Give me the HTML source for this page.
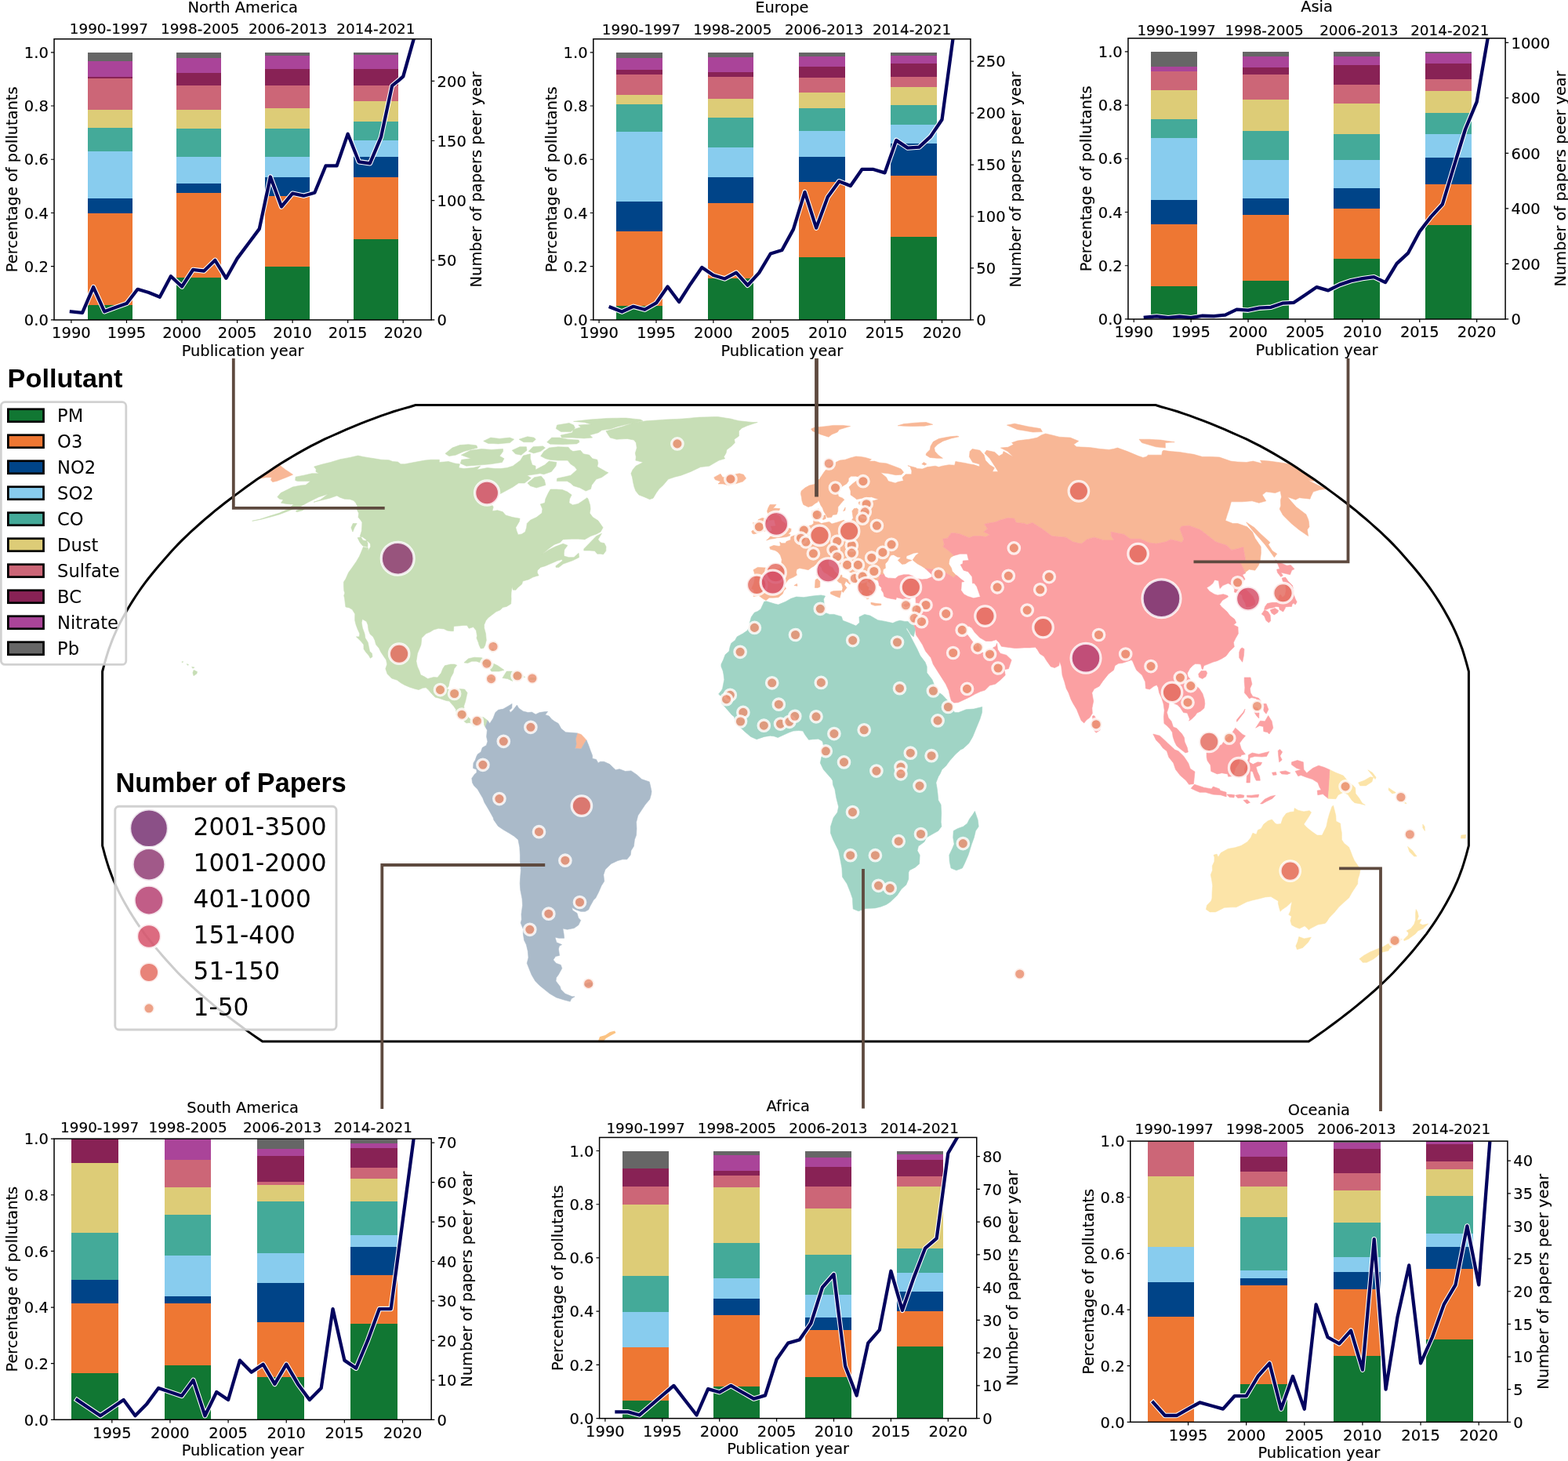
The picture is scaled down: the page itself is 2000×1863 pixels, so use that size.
<!DOCTYPE html>
<html lang="en"><head><meta charset="utf-8"><title>Air pollutant publications by continent</title>
<style>
html,body{margin:0;padding:0;background:#fff;}
body{width:2000px;height:1863px;overflow:hidden;font-family:"DejaVu Sans","Liberation Sans",sans-serif;}
svg{display:block;}
</style></head><body>
<svg xmlns="http://www.w3.org/2000/svg" width="2000" height="1863" viewBox="0 0 2000 1863">
<rect width="2000" height="1863" fill="#fff"/>
<clipPath id="mapclip"><path d="M516.1 520.6L509.2 522.6L502.1 524.8L494.5 527.4L486.3 530.2L477.7 533.4L468.9 536.7L459.9 540.2L450.9 543.9L441.8 547.7L432.4 551.8L423 556L413.7 560.2L404.9 564.6L396.4 568.9L388.2 573.4L380.2 577.9L372.3 582.5L364.6 587.1L357 591.8L349.7 596.6L342.4 601.4L335.3 606.2L328.1 611.1L321.1 616L314.1 621L307.2 626.1L300.4 631.1L293.6 636.2L287 641.3L280.4 646.5L273.9 651.7L267.6 657L261.4 662.2L255.3 667.5L249.3 672.8L243.4 678.2L237.7 683.6L232.2 688.9L226.8 694.4L221.7 699.8L216.7 705.3L211.9 710.7L207.1 716.2L202.3 721.7L197.7 727.2L193.2 732.8L188.8 738.3L184.5 743.8L180.5 749.4L176.6 755L172.9 760.5L169.3 766.1L165.8 771.7L162.5 777.3L159.3 782.9L156.2 788.5L153.3 794L150.5 799.6L147.9 805.2L145.4 810.8L143.1 816.4L141 822L138.9 827.6L137.1 833.2L135.4 838.8L133.8 844.3L132.3 849.9L130.8 855.5L130.6 856.2L130.6 1078.4L130.8 1079.1L132.3 1084.7L133.8 1090.3L135.4 1095.8L137.1 1101.4L138.9 1107L141 1112.6L143.1 1118.2L145.4 1123.8L147.9 1129.4L150.5 1135L153.3 1140.6L156.2 1146.1L159.3 1151.7L162.5 1157.3L165.8 1162.9L169.3 1168.5L172.9 1174.1L176.6 1179.6L180.5 1185.2L184.5 1190.8L188.8 1196.3L193.2 1201.8L197.7 1207.4L202.3 1212.9L207.1 1218.4L211.9 1223.9L216.7 1229.3L221.7 1234.8L226.8 1240.2L232.2 1245.7L237.7 1251L243.4 1256.4L249.3 1261.8L255.3 1267.1L261.4 1272.4L267.6 1277.6L273.9 1282.9L280.4 1288.1L287 1293.3L293.6 1298.4L300.4 1303.5L307.2 1308.5L314.1 1313.6L321.1 1318.6L328.1 1323.5L334.8 1328.1L1669.2 1328.1L1675.9 1323.5L1682.9 1318.6L1689.9 1313.6L1696.8 1308.5L1703.6 1303.5L1710.4 1298.4L1717 1293.3L1723.6 1288.1L1730.1 1282.9L1736.4 1277.6L1742.6 1272.4L1748.7 1267.1L1754.7 1261.8L1760.6 1256.4L1766.3 1251L1771.8 1245.7L1777.2 1240.2L1782.3 1234.8L1787.3 1229.3L1792.1 1223.9L1796.9 1218.4L1801.7 1212.9L1806.3 1207.4L1810.8 1201.8L1815.2 1196.3L1819.5 1190.8L1823.5 1185.2L1827.4 1179.6L1831.1 1174.1L1834.7 1168.5L1838.2 1162.9L1841.5 1157.3L1844.7 1151.7L1847.8 1146.1L1850.7 1140.6L1853.5 1135L1856.1 1129.4L1858.6 1123.8L1860.9 1118.2L1863 1112.6L1865.1 1107L1866.9 1101.4L1868.6 1095.8L1870.2 1090.3L1871.7 1084.7L1873.2 1079.1L1873.4 1078.4L1873.4 856.2L1873.2 855.5L1871.7 849.9L1870.2 844.3L1868.6 838.8L1866.9 833.2L1865.1 827.6L1863 822L1860.9 816.4L1858.6 810.8L1856.1 805.2L1853.5 799.6L1850.7 794L1847.8 788.5L1844.7 782.9L1841.5 777.3L1838.2 771.7L1834.7 766.1L1831.1 760.5L1827.4 755L1823.5 749.4L1819.5 743.8L1815.2 738.3L1810.8 732.8L1806.3 727.2L1801.7 721.7L1796.9 716.2L1792.1 710.7L1787.3 705.3L1782.3 699.8L1777.2 694.4L1771.8 688.9L1766.3 683.6L1760.6 678.2L1754.7 672.8L1748.7 667.5L1742.6 662.2L1736.4 657L1730.1 651.7L1723.6 646.5L1717 641.3L1710.4 636.2L1703.6 631.1L1696.8 626.1L1689.9 621L1682.9 616L1675.9 611.1L1668.7 606.2L1661.6 601.4L1654.3 596.6L1647 591.8L1639.4 587.1L1631.7 582.5L1623.8 577.9L1615.8 573.4L1607.6 568.9L1599.1 564.6L1590.3 560.2L1581 556L1571.6 551.8L1562.2 547.7L1553.1 543.9L1544.1 540.2L1535.1 536.7L1526.3 533.4L1517.7 530.2L1509.5 527.4L1501.9 524.8L1494.8 522.6L1487.9 520.6L1481 518.7L1474.1 516.6L529.9 516.6L523 518.7Z"/></clipPath>
<g id="map" clip-path="url(#mapclip)" stroke-linejoin="round">
<path id="land-europe" fill="#f8b796" stroke="#f8b796" stroke-width="0.6" d="M1115 738.9L1110.6 740L1108.6 742.7L1111 743.8L1106.2 741.1L1105.3 741.6L1105.3 746.6L1108.3 749.4L1107.2 752.2L1111.9 753.8L1112.2 756.6L1108.4 755.5L1108.7 758.9L1108.2 763.3L1105.9 763.9L1103.4 761.7L1102 761.7L1099.3 756.6L1100.5 753.3L1098.1 752.2L1096.5 749.4L1093 745.5L1090.4 742.2L1089.5 736.6L1089.7 733.9L1084.9 730L1080.2 727.2L1075.5 724.5L1070.9 721.7L1068.4 717.9L1066 715.1L1063 716.8L1061.9 713.5L1061.4 712.4L1057.1 714L1056.4 717.3L1057.5 721.7L1062.1 723.9L1064.7 728.9L1069.4 732.8L1073.9 733.3L1074.1 736.1L1078.8 737.7L1083.5 740.5L1086 743.3L1083.8 745L1079 741.1L1077 745.5L1080 749.4L1077.5 752.7L1075.4 755.5L1073.9 753.8L1075 749.4L1073.3 743.8L1070.1 742.7L1067.6 740L1062.9 737.2L1058.3 734.4L1055 731.7L1051.3 730L1048.9 727.2L1047.9 723.9L1045.5 721.2L1041 719.5L1037.6 722.3L1035.4 723.4L1031 726.7L1025.6 725.6L1019.8 724.5L1016.3 726.1L1015.4 730L1016.4 733.3L1011.9 736.1L1006.5 738.3L1004.3 740.5L1000.6 746.6L1002.5 750.5L999.7 753.3L998.3 757.2L992.8 761.7L985.9 762.2L981.2 762.2L977 765.6L972.9 763.3L967.9 759.4L961 760.5L961.7 752.2L958.6 750.5L961.6 743.8L962.7 737.2L962.1 730L960.9 726.7L966.4 723.4L975.3 723.9L984.2 725L993.1 725.6L995.3 724.5L996.7 719L997.2 713.5L995.4 708L992.4 704.2L989 702L982.5 700.3L981.7 697.6L986.9 695.4L993.4 696.5L995.5 696L994.7 691.1L996.8 692.7L1002 692.7L1002.9 690.6L1008.4 688.4L1008.8 684.6L1012.6 683L1016.8 681.4L1018.9 678.2L1021.3 675.5L1022.1 672.8L1024.9 671.2L1031.2 670.7L1035.3 669.6L1037.7 667.5L1037.8 662.7L1035.6 659.6L1034.9 654.3L1035.5 651.2L1040.4 650.7L1044.2 648.1L1044.3 654.3L1046.1 657L1043 659.6L1041.9 662.2L1043.3 664.9L1047.6 667.5L1051.7 666.5L1057.8 665.4L1061 668L1068.2 665.9L1076.2 663.3L1079.3 665.4L1083.8 664.9L1086.5 663.3L1088.2 660.6L1087.7 657L1086.9 651.7L1089.3 648.6L1092.8 648.1L1097.1 651.7L1100 650.2L1099.5 645L1095.6 642.9L1095.2 640.3L1100.1 638.8L1106.7 638.3L1112.7 638.8L1121 636.7L1115.9 635.2L1111.7 633.7L1105.9 634.2L1100.2 635.2L1092.6 636.7L1090.3 634.7L1085 631.1L1085 626.1L1083 621L1087.3 617L1093.9 612.1L1097 610.6L1095 608.2L1091.8 607.2L1085.5 607.2L1082.3 610.1L1082.2 613.6L1079.7 617L1074.5 620L1071.1 623.5L1069.2 626.1L1069 631.1L1069.7 633.2L1074.7 635.2L1076.9 637.2L1074.5 639.8L1071.7 642.9L1068.9 646.5L1068.7 651.7L1067.2 655.9L1062.3 656.4L1060.6 659.6L1055.3 660.1L1053.4 656.4L1050.5 651.7L1049.4 648.1L1046.7 643.9L1045.7 641.3L1043.8 637.8L1042.8 640.3L1039.8 641.9L1036 645L1030.9 646.5L1024.7 643.4L1023 638.8L1022.4 634.2L1021.4 629.6L1022.1 626.1L1026.9 622L1032.4 619L1039.2 617.5L1041.5 613.6L1045.1 611.1L1048.3 606.2L1051.5 601.4L1054.7 597.5L1058 595.1L1061.3 592.8L1066.1 589.5L1071.1 587.1L1078 586.2L1084.5 583.9L1091.8 582L1098.2 582.5L1103.7 583.4L1111.4 585.7L1108.5 588.1L1115.6 588.1L1121.5 589.9L1130.7 590.9L1140.9 594.7L1149.3 598L1152.6 602.3L1149.8 605.2L1142.6 605.7L1132.8 603.8L1123.3 602.8L1130.5 608.7L1133 613.6L1142 616L1145.3 614.6L1152.4 613.1L1151 608.7L1155.2 604.8L1162.6 604.8L1162.9 600.4L1160.9 595.1L1157.9 593.7L1168.7 596.6L1169.1 597.5L1176.5 598L1182.8 595.6L1193 594.2L1197.3 595.6L1202 594.2L1210.3 592.8L1217.7 593.2L1218.8 588.5L1230.5 590.4L1236.7 591.8L1242.6 592.8L1249.4 595.1L1249.2 591.8L1240.7 589.5L1236.4 582.5L1237.1 575.6L1240.1 572.5L1249.9 574.3L1255.1 580.2L1257 587.1L1262.4 592.8L1268.4 596.6L1265.8 601.4L1273.2 601.4L1268.7 594.2L1262.5 584.8L1255.9 577.9L1258.4 574.3L1268.7 576.5L1274.2 581.6L1279.1 578.8L1280 575.6L1292.4 582.5L1285.2 575.6L1276.4 571.1L1285.8 570.3L1292.7 566.7L1290.6 564.6L1297.9 562L1305.2 561.1L1312.5 560.2L1317.8 559.2L1323 558.1L1328.5 554.7L1333.7 553L1341.3 554.7L1351.1 557.2L1358.1 557.7L1365.2 558.1L1375.8 562.4L1369.5 566.7L1373.1 569.8L1383.8 570.3L1391 570.7L1403.3 572.5L1414.6 573.4L1420.3 572.5L1425.4 571.1L1437.9 575.6L1452.2 581.6L1457.9 583.4L1462 582.5L1464.4 580.2L1474.8 580.2L1481.8 580.2L1482.6 575.6L1484.1 574.3L1492.9 575.6L1504.5 576.5L1513.3 577.9L1522.2 579.3L1533.7 582.5L1544.2 582.5L1555.4 583L1569.9 588.1L1578.4 589L1589.8 589.5L1598.3 588.1L1609.7 590.9L1607.5 587.1L1619.6 588.1L1633.3 589.9L1647.7 592.3L1675.9 611.1L1675.6 613.6L1668.6 612.6L1680.7 618.5L1691.4 623.5L1683.2 624.5L1675 627.1L1671.8 633.7L1671 636.2L1657.3 634.7L1652.6 637.2L1642.4 633.7L1646.5 638.8L1653.4 646.5L1665.9 655.9L1668.6 662.2L1669.3 664.9L1670 671.8L1667.4 675.5L1668.6 683.6L1656.9 675.5L1647.1 667.5L1636.5 657L1632.2 649.1L1633.7 645L1633.4 637.8L1634.5 633.7L1633.1 626.1L1626.5 628.6L1615 627.1L1610.1 631.1L1614.8 638.8L1605.8 641.3L1597.1 638.8L1584.3 639.8L1570.4 639.8L1567.8 649.1L1565.1 657L1563 663.8L1572.4 667.5L1578.7 667.5L1590.7 671.8L1597.5 678.2L1600.8 686.2L1608.2 697.1L1608.4 705.3L1607.4 713.5L1605.5 720.6L1600.8 727.2L1593.4 726.1L1588.7 729.4L1588.3 731.1L1585.7 724.5L1581.4 716.2L1588.7 715.1L1585.7 697.6L1578.5 699.8L1571 701.4L1564.7 695.4L1551 691.1L1546.1 687.3L1531 675.5L1516.4 670.2L1506.8 671.2L1505 674.4L1509.9 687.3L1507.6 691.7L1501.8 690L1493.1 687.9L1486.6 691.1L1475.1 693.3L1465.8 692.2L1454.4 687.3L1441.6 687.3L1433.8 681.4L1424.4 679.8L1417.1 678.2L1417.3 683.6L1421.1 688.9L1408.3 688.9L1395.6 685.2L1386.4 687.9L1379.6 693.3L1375.9 692.7L1368.7 691.1L1359.5 685.2L1350.7 684.6L1341.7 683.6L1328.7 673.9L1322.7 670.2L1316.8 666.5L1309.7 669.1L1306.9 667.5L1296.1 666.5L1293.7 661.2L1285.2 660.6L1274.2 663.8L1270.8 665.4L1259.2 667.5L1255.5 668.6L1259.6 673.9L1254.9 678.2L1262.6 681.9L1257.1 684.6L1250.4 683.6L1241.9 683.6L1236.2 685.7L1224.1 680.9L1217.4 679.8L1213.2 679.8L1208.7 686.2L1202.6 687.3L1204.4 694.4L1202.9 697.1L1208.2 700.9L1213.6 705.3L1216.6 708.5L1212.7 710.7L1211.1 713.5L1210.2 719L1213.6 724.5L1214.5 728.3L1219.2 733.3L1216.3 736.6L1211.1 733.3L1203.4 728.9L1196.4 727.2L1189.5 726.1L1180.3 725L1175.3 721.7L1170.3 719L1166.7 716.2L1164.1 714L1168.3 708L1172.1 705.3L1169.9 704.7L1165.6 705.3L1161.5 706.9L1156.2 709.1L1155.9 712.4L1162.9 714.6L1158.8 716.2L1154.8 719L1150.5 719.5L1145.3 714.6L1149.1 710.7L1144.6 710.2L1139.8 707.4L1136.3 708L1133.9 711.8L1132.6 715.1L1129.1 719L1129.4 724.5L1126.5 726.1L1126.1 730L1127.8 732.8L1121.1 732.8L1120.4 734.4L1122 736.6L1120.9 738.9L1119.7 740ZM977.6 688.9L982.8 687.3L987.1 686.8L991.4 685.7L997.7 685.2L1003.3 684.6L1007.5 683L1007.9 681.4L1005.4 680.9L1008.7 677.6L1009.1 674.4L1004.1 672.8L1003.2 670.2L1001.2 667L997 664.3L995.4 659.6L993 657L989.8 657L991.8 654.3L993.9 650.7L994.8 648.6L987.9 648.1L985.9 648.6L988.8 645L990 643.4L982.1 643.4L979.9 647.6L978.5 651.7L979.6 655.4L979 660.1L982.3 659.6L981.4 663.3L987.6 662.7L988.7 667L989.5 670.7L983.2 671.2L984.4 673.9L984.8 676.6L980.1 678.7L984.2 680.3L988.5 680.9L987.2 682.5L982.9 683.6L979.8 687.3ZM976.8 677.1L976.1 671.2L977.1 667.5L979.3 664.3L976.5 661.2L972 660.6L967 662.7L966.8 665.9L960.6 666.5L961.1 670.7L964.4 671.8L962.1 675L958.6 677.6L959.7 680.3L961.8 680.9L966.1 679.8L972.5 677.6ZM910.8 608.7L919 604.3L921.9 608.7L927.7 607.7L935.5 605.2L943.1 603.8L948.4 605.2L951.6 610.1L947.4 614.1L937.6 617L929.7 619L922.4 617L916 617L919.1 614.1L912.1 611.6ZM1036.5 549.7L1046.7 553.9L1056.9 557.2L1061 553.9L1068.2 551L1070.5 547.7L1077.6 545.6L1084.5 543.5L1075 542.4L1068.9 542.4L1062.8 542.4L1056.9 543.2L1051 543.9L1045 544.5L1038.9 545L1034.6 547ZM1181 580.2L1186.1 583.4L1195.3 584.3L1202.4 584.3L1196.7 580.2L1192.5 575.6L1191.7 571.1L1195.8 566.7L1202.9 562.4L1208.2 560.7L1213.4 558.9L1223.1 556.8L1220.7 556L1211.8 556.8L1204.7 558.1L1197.5 559.4L1190.3 563.3L1187 568.9L1186.2 573.4L1181.6 577.9ZM1145.2 542.8L1153.1 543.2L1160.9 543.5L1167 543.4L1173 543.3L1179 543.2L1184.4 542.2L1189.7 541.3L1181.2 538.5L1174 538.8L1166.8 539.2L1159.8 539.9L1152.8 540.6ZM1297.7 547.7L1307.5 549.3L1317.4 551L1323.4 550.8L1329.5 550.6L1327.2 546.6L1319.2 545.2L1311.2 543.9L1302.6 542.1L1294.1 540.2L1289.3 541.2L1284.4 542.1ZM1456.5 564.6L1474.3 569.8L1486.4 571.1L1486.3 564.6L1492.3 564.1L1498.2 563.7L1489.4 562.4L1480.6 561.1L1473.3 560.7L1466.1 560.2L1459.5 560.2L1453 560.2ZM1589.7 665.9L1600 672.8L1608.2 680.9L1620 691.7L1617.8 694.4L1623 702.5L1628.8 706.3L1625.3 710.7L1619.5 702.5L1613.5 694.4L1606.3 686.2L1599.2 678.2L1592.6 670.2ZM1059.3 755L1062.9 753.8L1073.4 753.3L1071.6 760.5L1071.2 762.2L1066.5 760.5L1059.4 757.2ZM1039.4 749.4L1040 739.4L1043.5 737.2L1045.9 741.1L1045.8 748.3L1043.1 749.4ZM1040.6 732.8L1044 727.2L1044.7 732.8L1043.5 736.1ZM1110.9 768.3L1117.9 769.5L1124 770L1123.7 771.7L1115.9 772.3L1111.1 770.6ZM1047.1 660.6L1050.1 657L1053 657L1053.3 661.2L1050.2 662.7ZM1075.6 651.7L1078.2 647L1077.9 650.7ZM1012.9 746.6L1016.5 744.4L1017 747.2ZM1175.8 591.8L1178.3 589.5L1181.9 591.8L1179.3 593.2ZM356.3 592.3L359.1 595.1L364.2 599L368.1 601.4L373.6 605.2L365.2 608.7L352.8 613.6L347.7 614.6L345.5 612.1L346.6 608.7L339.1 608.7L328.1 611.1ZM736.4 934.9L741.3 936.6L744.6 939.9L748 943.8L744.4 949.4L741.4 955L733.5 954.4L735.1 948.9L734.2 942.2Z"/>
<path id="land-asia" fill="#fba0a2" stroke="#fba0a2" stroke-width="0.6" d="M1119.7 740L1121 743.8L1121.3 746.6L1124.3 749.4L1124.1 752.2L1126.8 756.1L1127.7 760.5L1131.1 762.2L1135.9 763.3L1142.9 764.4L1143.5 761.7L1149.7 763.3L1154.6 765.6L1159.1 764.4L1163.4 762.2L1168 761.7L1168.1 766.1L1168.3 771.7L1169.1 774.5L1167.6 777.8L1166.3 782.9L1165.5 788.5L1163.6 792.4L1167.4 802.4L1168.5 809.7L1171.2 813.6L1176.6 822L1180.6 830.4L1187.4 838.8L1190.3 847.1L1195.6 855.5L1201 863.9L1206.3 872.3L1210.2 880.7L1212 889.1L1214.3 896.3L1222.1 895.8L1229.3 892.4L1236.5 889.1L1243.6 885.1L1250.7 881.8L1256.4 880.1L1262.4 874L1269.5 872.3L1276.4 866.7L1282.2 861.1L1281.1 853.8L1286.4 852.7L1290.2 841.6L1283.8 835.4L1275.9 833.2L1272.5 828.1L1271.6 820.3L1270.1 824.2L1266.5 825.9L1262.7 830.9L1254.2 832.1L1249.8 832.1L1249.2 825.9L1247.3 821.4L1245.3 824.8L1242.4 824.8L1241.4 819.2L1238 814.7L1232.9 808L1229.4 802.4L1231.4 799.6L1236 798.5L1239.6 800.8L1243.2 806.3L1249.7 813.1L1257.4 817.5L1264.6 817.5L1270.6 815.8L1274.3 819.2L1277.3 824.2L1284.6 825.3L1294.3 826.5L1297.2 826.5L1306.3 825.9L1313.4 825.9L1320.6 825.3L1323.4 828.7L1326.4 833.7L1331.6 837.1L1334.6 842.1L1340.2 849.9L1345.2 851.6L1350.7 848.8L1351.6 843.2L1353.8 849.9L1355 861.1L1357.8 869.5L1360.1 877.9L1363 883.5L1366.1 891.9L1369 897.4L1373.4 904.7L1376.3 912L1379.1 918.7L1382.7 922L1385.9 918.1L1389.7 915.3L1393.3 909.7L1392.9 903L1394.7 894.1L1392.8 883.5L1395.7 878.4L1402.2 875.1L1406.7 868.4L1413.9 859.4L1420.5 854.4L1422.2 848.8L1426.7 846L1431.4 845.5L1438.4 843.2L1442.9 841.6L1444.5 842.7L1447.5 849.9L1449.6 854.4L1456.8 861.1L1460.8 869.5L1461.4 877.9L1466.4 879L1471.8 875.1L1475.4 873.4L1477.3 876.8L1478.6 883.5L1481.8 890.2L1484 897.4L1485.2 905.8L1484.4 914.2L1484.9 922.6L1488.5 925.4L1492.2 929.3L1495.3 933.8L1496.1 939.4L1498.3 946.1L1500.9 951.1L1505.5 955L1512 960L1515.4 958.9L1514.3 953.3L1511.1 946.1L1510.4 940.5L1507.7 936L1504.6 932.7L1501 928.7L1496.5 927.1L1494.1 919.8L1490.3 915.3L1488.4 908.6L1490.7 901.4L1491.2 895.8L1493.2 891.9L1496.1 896.3L1502.2 899.1L1505.5 902.5L1509.5 908.6L1514.4 909.2L1517.5 917L1516.6 919.2L1519.9 917L1524.5 912.5L1526.7 909.2L1531.4 906.9L1535.9 903L1536.8 897.4L1536.2 891.9L1533.9 884.6L1529.6 877.9L1524.1 873.4L1519.4 867.8L1515.1 862.2L1514.5 858.3L1517.5 852.7L1521.2 848.8L1524.3 846.6L1528.1 846.6L1531.6 847.1L1533 852.7L1534.1 853.8L1535.7 848.8L1541.6 846.6L1547 844.3L1552.5 842.7L1558.3 839.9L1563.9 836.5L1568.4 830.4L1574.3 824.8L1573.4 819.2L1576.2 813.6L1579.4 808L1579.1 802.4L1579.1 799.6L1573.5 796.8L1576.8 794L1574.7 789.6L1568.9 785.1L1565.1 780.1L1557.8 773.4L1555.7 770.6L1559.2 765.6L1566.5 761.1L1565.8 759.4L1560.4 757.7L1553.1 758.9L1548.9 757.7L1542.6 753.8L1539.2 749.4L1543.8 746.6L1547 743.8L1549.3 739.4L1554.4 740.5L1555.2 746.6L1556.1 750.5L1559.7 746.6L1566.5 743.8L1570.8 746.1L1574.7 751.1L1574.3 755L1580.6 756.6L1584.4 758.9L1585 763.3L1588.4 768.9L1589.7 773.9L1595 773.4L1600.8 770.6L1600.6 766.1L1598 760.5L1589.9 752.2L1583.3 748.3L1585 742.7L1588 738.3L1584.8 732.8L1588.3 731.1L1585.7 724.5L1581.4 716.2L1588.7 715.1L1585.7 697.6L1578.5 699.8L1571 701.4L1564.7 695.4L1551 691.1L1546.1 687.3L1531 675.5L1516.4 670.2L1506.8 671.2L1505 674.4L1509.9 687.3L1507.6 691.7L1501.8 690L1493.1 687.9L1486.6 691.1L1475.1 693.3L1465.8 692.2L1454.4 687.3L1441.6 687.3L1433.8 681.4L1424.4 679.8L1417.1 678.2L1417.3 683.6L1421.1 688.9L1408.3 688.9L1395.6 685.2L1386.4 687.9L1379.6 693.3L1375.9 692.7L1368.7 691.1L1359.5 685.2L1350.7 684.6L1341.7 683.6L1328.7 673.9L1322.7 670.2L1316.8 666.5L1309.7 669.1L1306.9 667.5L1296.1 666.5L1293.7 661.2L1285.2 660.6L1274.2 663.8L1270.8 665.4L1259.2 667.5L1255.5 668.6L1259.6 673.9L1254.9 678.2L1262.6 681.9L1257.1 684.6L1250.4 683.6L1241.9 683.6L1236.2 685.7L1224.1 680.9L1217.4 679.8L1213.2 679.8L1208.7 686.2L1202.6 687.3L1204.4 694.4L1202.9 697.1L1208.2 700.9L1213.6 705.3L1216.6 708.5L1224.8 706.3L1233.5 706.3L1235.6 714.6L1228.3 715.1L1227.9 719L1225.1 720.1L1229 727.2L1234.8 728.9L1239.9 735.5L1240.4 743.8L1242.7 743.8L1245.8 747.7L1249.3 757.7L1250.4 761.1L1241.9 762.8L1234.6 760.5L1229.5 757.7L1225.8 752.7L1226.2 747.7L1226.5 742.2L1230 741.6L1225.6 738.3L1220.6 733.9L1219.2 733.3L1216.3 736.6L1211.1 733.3L1203.4 728.9L1196.4 727.2L1189.5 726.1L1180.3 725L1188.5 732.8L1189 735.5L1182.7 738.3L1176 738.9L1169.1 737.7L1164 734.4L1159.3 732.8L1152.5 732.8L1146 734.4L1142 737.7L1135.1 737.2L1132.9 737.2L1129.1 735.5L1127.8 732.8L1121.1 732.8L1120.4 734.4L1122 736.6L1120.9 738.9L1119.7 740ZM1393.5 913.1L1395.5 912.5L1400.8 919.8L1404 925.4L1403.2 931L1398 934.3L1394.9 931L1394 922.6ZM1528.7 859.4L1532 855.5L1538.3 855.5L1539.7 858.3L1538 862.8L1533.6 865.6L1529.4 863.4ZM1584.2 825.9L1587 827.6L1586.4 836L1584.7 844.3L1580.7 838.8L1580.7 831.5L1582.2 827.6ZM1610.2 781.7L1612.8 777.8L1617.4 780.1L1620.2 784.5L1620.7 791.8L1618.3 794L1614.9 791.3L1612.7 785.7L1609.2 782.9ZM1620.2 777.8L1626.2 775.6L1630.7 778.4L1629.6 781.2L1625.2 784L1621.9 781.7ZM1612.5 777.3L1613.6 773.4L1616.5 769.5L1622.9 768.3L1629.9 768.3L1630.6 765L1631.6 759.4L1633.3 758.3L1635.9 761.7L1639.1 758.9L1640.2 753.8L1640 747.7L1636.2 741.1L1635.2 737.2L1639.5 736.1L1643 741.1L1648.5 746.6L1649.9 753.3L1650 757.7L1652 763.3L1654.2 767.8L1652.1 771.1L1650.1 768.9L1648.1 770.6L1647.6 773.4L1644.8 773.4L1639.5 773.9L1639.3 775.6L1638 777.8L1636.6 780.1L1632.1 777.3L1631.5 773.9L1627.6 773.4L1623.7 775L1619.3 775.6L1615.3 777.3ZM1633.7 735.5L1636.3 733.9L1633.8 730L1645.5 732.8L1647.7 727.2L1651 725.6L1646.3 720.6L1641.4 721.2L1635 718.4L1626.7 714L1629.7 719L1632.3 725.6L1628.6 726.1L1629.4 730ZM1587.2 863.9L1595 863.9L1596.9 872.3L1594.4 877.9L1595.2 883.5L1597.8 887.9L1605.4 890.2L1608.9 894.6L1606.2 896.3L1602.1 890.7L1596.5 889.6L1593.3 890.7L1590.9 887.4L1587.4 883.5L1587.9 876.8L1587.2 869.5ZM1601.7 928.2L1607.5 919.2L1613.4 919.8L1617.7 912.5L1622.2 919.8L1623.8 928.2L1621.6 932.1L1618.9 936L1616.8 933.8L1611.8 932.7L1611.4 926.5L1606.4 925.4ZM1610.2 897.4L1615.1 897.4L1617.9 904.7L1615 910.3L1612.2 906.9L1611.3 903ZM1599.4 901.4L1604.5 903L1606 908.6L1605.7 915.9L1602.5 912.5L1600.2 908.6ZM1577.6 920.4L1581.2 915.9L1586.9 908.6L1588 904.1L1585.5 908.6L1581 913.6L1577.4 918.1ZM1539 958.9L1541.9 956.1L1545.4 957.8L1550.2 953.3L1558.5 949.4L1563.1 942.2L1570.2 936.6L1575.7 928.2L1580.8 932.7L1585 936.6L1588.5 938.2L1584.3 943.3L1581.1 947.7L1583.3 955L1588.4 961.7L1583.5 962.8L1581 967.3L1580.5 972.9L1575.9 979.6L1574.2 985.2L1573.1 989.7L1566.6 990.2L1565.8 986.9L1558.5 985.7L1552.5 986.9L1544.7 983.5L1544 975.7L1540.1 970.1L1539.1 965.6ZM1470.8 936L1479.3 938.2L1485.4 943.8L1489.5 947.7L1494.5 952.2L1498.6 956.1L1503.1 957.8L1509.5 963.9L1513 969L1515.9 973.4L1518.2 980.2L1524 984.1L1523.2 992.4L1522.4 999.7L1516.5 1000.3L1512.8 995.2L1505.6 989.1L1499.5 981.3L1496.7 972.9L1490.8 965.6L1488.3 957.8L1483.3 953.9L1479.7 948.9L1474.6 943.8ZM1519.2 1005.3L1523.4 1000.3L1527.3 1001.4L1535.5 1004.2L1545.2 1005.9L1547.3 1003.1L1555.5 1005.9L1556.4 1008.1L1564.1 1010.3L1564.2 1015.9L1557 1013.7L1547.2 1013.1L1537.6 1010.3L1530.2 1010.3L1524.9 1008.1ZM1564.9 1013.1L1570.3 1013.1L1574.7 1013.7L1574 1017L1568.1 1016.5ZM1575.6 1014.2L1581.6 1013.1L1586.9 1014.2L1586.2 1017L1578.8 1017.6ZM1590.4 1014.2L1596.3 1014.2L1605.7 1013.1L1604.9 1016.5L1596 1017L1590.7 1016.5ZM1586 1020.4L1590.9 1019.8L1594.5 1023.2L1590.5 1024.9ZM1607.6 1024.9L1613 1019.3L1620.7 1015.4L1626.7 1014.2L1623 1018.2L1615.2 1022.1L1610.1 1024.9ZM1592.3 962.8L1597.2 960L1605.6 961.7L1614.4 959.5L1618.8 958.4L1615.5 964.5L1609.6 965.1L1600.7 964.5L1594.3 966.2L1593.3 971.8L1598.2 974.6L1604.1 971.8L1609.6 972.3L1608 975.7L1602.1 977.9L1603.8 984.1L1606.6 989.7L1607.3 995.2L1602.3 995.2L1600.1 990.8L1597.9 984.1L1595 982.9L1594.7 989.7L1594.3 998L1589.9 998L1590.3 989.7L1588 985.7L1587.2 981.3L1589.8 974.6L1592.3 967.3ZM1630.2 957.2L1632.6 955.6L1635.6 958.9L1632.7 963.9L1635.2 969L1631.7 971.8L1630.8 964.5ZM1632.4 984.1L1639.8 982.9L1646.1 985.7L1642.1 987.4L1634.7 986.9ZM1622.5 985.2L1627.4 984.6L1628.3 988L1623.8 988.5ZM1647.5 971.8L1654.9 969.5L1662.3 971.8L1663 981.3L1666.8 985.7L1674.4 979.6L1681.9 976.2L1689.2 978.5L1696.5 981.8L1695.9 993.9L1695.1 1006L1694.1 1018.2L1687.3 1012.6L1680.8 1013.7L1680.2 1008.1L1685.2 1007.5L1683 1003.6L1680.9 998L1673.8 993.6L1666.5 991.3L1659.3 988.5L1655.8 989.7L1652.1 983.5L1659.6 981.3L1653.7 979.6L1647.4 975.1ZM1152 771.7L1155.1 770L1161.9 768.3L1159.9 771.7L1155.5 773.9Z"/>
<path id="land-africa" fill="#a0d4c5" stroke="#a0d4c5" stroke-width="0.6" d="M974.7 767.2L977.5 766.7L988.1 770L992.7 771.1L1002 767.2L1008.9 763.3L1015.8 761.1L1025.1 761.7L1036.5 760L1047.1 758.9L1052.6 760L1050.5 763.9L1051.1 768.9L1053.2 774.5L1048.7 779L1053.5 781.7L1058.2 783.4L1063.8 783.4L1073.3 786.2L1075 791.3L1082.2 794L1091.8 798L1096.3 794L1095.9 786.8L1102.7 783.4L1109.8 785.1L1119.6 790.7L1129.2 792.4L1138.8 794.6L1143.3 792.4L1147.9 791.3L1154.1 792.4L1163.1 792.4L1167.4 802.4L1165.3 811.9L1161.8 809.1L1156.8 800.8L1155.9 801.9L1159.8 808L1163.1 814.7L1169.8 827.6L1173.7 836L1180 844.3L1182.2 849.9L1182.2 857.8L1189 866.7L1194.6 880.7L1202.1 886.3L1209.8 894.6L1213.9 897.4L1213.6 902.5L1217.7 908.6L1222.6 908.6L1232.3 904.7L1242.1 904.1L1252.7 901.4L1252.5 908.6L1249.9 917L1245.3 928.2L1240.7 939.4L1235.9 947.7L1228.6 954.4L1225.2 956.1L1218.8 961.7L1211.4 970.1L1206.5 976.8L1201.5 981.3L1199 986.9L1196.9 990.2L1193.9 998L1195.2 1005.3L1196 1012L1196.8 1020.4L1200.1 1026L1200.7 1037.2L1200.2 1048.3L1200.9 1053.9L1196.7 1059.5L1191.7 1062.3L1181.7 1067.9L1179 1073.5L1171.4 1079.1L1170.1 1084.7L1173.2 1090.3L1172.6 1101.4L1167.5 1105.9L1160 1109.8L1158.9 1112.6L1158.8 1121L1155.8 1128.3L1149.7 1133.8L1144.3 1141.7L1135.6 1150.1L1130.6 1153.4L1123.4 1156.2L1116.2 1157.9L1104.5 1158.4L1095 1161.8L1088.2 1159L1087.7 1151.7L1087.5 1146.1L1084.7 1137.8L1080.4 1127.1L1074.5 1118.2L1073.9 1107L1071.8 1095.8L1069.6 1084.7L1062.7 1070.7L1059.4 1062.3L1059.5 1053.9L1063.1 1042.7L1068.1 1036L1069.6 1028.8L1066.8 1017.6L1064.9 1006.4L1062.5 1000.8L1062 995.2L1060.1 992.4L1056.2 988L1050.3 981.3L1046.3 972.9L1047.8 965.6L1049.3 961.7L1050.3 953.3L1049.8 947.7L1048.8 944.9L1043.8 942.2L1036.5 942.7L1031.5 943.3L1026.6 936.6L1024.1 932.1L1018.7 931.5L1011.8 932.1L1006.9 933.8L1002 936L997.1 938.2L992.2 940.5L987.2 938.8L982.3 938.2L974.9 939.4L965.1 942.7L957.7 939.4L948.9 932.1L945.5 928.7L940.6 925.4L937.2 919.8L936.7 914.2L933.3 911.4L929.5 906.9L927.5 904.7L923.7 900.2L920.3 897.4L919.9 893L920.9 889.1L916.6 885.1L920.1 880.7L921.6 877.9L922.7 872.3L923.8 866.7L923 860L922.1 855.5L919.9 849.9L919.9 847.1L922.5 841.6L925.1 834.8L930 830.4L931.1 824.8L932.7 820.3L937.6 816.4L940.1 811.9L947.4 808L953.2 804.1L955.6 799.6L956.3 794L958.3 786.8L962.2 781.2L966.5 779.5L970.3 776.7L973.2 770.6ZM1243.4 1034.4L1247.2 1045.5L1248.2 1053.9L1244.4 1059.5L1242.4 1067.9L1239.4 1076.3L1235 1090.3L1230.2 1101.4L1227.4 1107L1219.9 1109.8L1213 1107L1211.2 1098.6L1210.8 1090.3L1214.8 1081.9L1217.1 1076.3L1215.7 1067.9L1216.2 1059.5L1221.2 1056.7L1228.7 1053.9L1233.8 1050L1236.5 1044.4L1240.7 1038.8Z"/>
<path id="land-north-america" fill="#c7deb6" stroke="#c7deb6" stroke-width="0.6" d="M622 918.7L616.8 914.8L611.9 913.6L605.3 917.6L600.4 917.6L598.1 915.3L594.9 911.4L592.3 906.4L591.7 900.2L593.6 894.6L595.4 886.3L596.1 883.5L592.7 879L585.4 878.4L578 879L573.1 879.6L569.3 878.4L572.2 875.1L573.3 869.5L575 863.9L578.1 858.3L579.3 852.7L582.8 848.3L579.6 847.1L574.8 847.1L567.3 848.8L564.8 852.7L562.6 858.3L558 863.9L553.2 863.4L545.6 865.6L541.2 862.8L536.6 860.6L534.9 855.5L532.4 849.9L530.9 843.2L532.5 833.2L536 824.8L537 822L537.9 813.6L543.4 808L548.7 805.8L553.2 803L559.3 801.3L566.2 801.9L570.4 804.1L575.1 804.7L578.4 804.7L578.9 798.5L586.1 798L591 797.4L595.7 797.4L598.1 801.3L603.7 799.6L607.4 804.1L608.5 810.8L607.9 813.6L610.2 819.2L611.1 822.6L613.2 827L616.7 826.5L618.7 823.1L620.3 816.4L619.5 808L617.6 800.8L617.5 796.8L619.8 791.3L622.5 787.9L627.6 784L632.8 780.1L638.1 777.8L641.3 774.5L646.2 773.4L651.7 770L652.1 763.3L651.9 760.5L652.1 755L653.2 748.3L654.3 752.2L658 752.2L660.2 749.4L665.6 745L666.8 741.1L674.3 738.9L679.7 736.1L684.7 734.4L687.1 733.9L685.2 730L685.6 727.2L689.6 723.4L695.5 721.7L700.6 719.5L705.8 717.3L710.9 715.1L716.7 713.5L717.5 715.1L708.8 721.7L709.2 723.4L712.7 723.4L718.5 719L723.4 717.3L730.9 714.6L738.6 710.7L738.1 705.3L732 710.7L725.5 710.7L719.4 709.1L719.3 705.3L719.9 700.9L723.9 695.4L718.2 693.3L708.2 697.1L700.3 700.9L691.9 706.3L701.1 698.7L707 694.4L714.5 691.7L718 687.9L728.9 687.3L737.4 687.3L745.8 687.9L753.6 683.6L760.9 680.9L766 678.2L769.1 672.8L765.5 667.5L762.8 663.8L756.1 659.6L752.2 654.3L753.1 649.1L752.6 643.9L750.1 636.2L748.9 634.7L743 638.8L737.4 642.4L730.6 643.9L725.9 641.3L726.5 636.2L729.1 631.1L723.5 627.1L717.2 624.5L709.8 624L702.1 624L699.4 628.6L695.8 636.2L694.9 641.3L689.3 642.9L691.9 649.1L691.2 654.3L684.4 659.6L676.4 663.3L672.2 667.5L671.6 672.8L669.9 678.2L665.7 680.9L660.9 681.9L659 677.1L657.8 672.8L662.4 664.9L663.1 661.2L653.7 659.6L645 657L641.4 652.8L634.6 650.7L627.9 651.7L629.2 646.5L626.7 642.4L628.9 636.2L635.6 631.1L644.9 626.1L654.2 621L661.5 616L669.1 616L677.3 609.6L672.3 606.2L682.6 604.8L688.8 603.8L693.7 604.8L703.3 601.4L709 594.2L709.9 589.5L700.3 588.1L694.9 592.8L683.1 599L683.1 594.2L678.8 592.8L677.8 589.5L676.4 584.8L676.4 578.8L667.4 581.1L663.8 587.1L654.2 594.2L646.8 596.6L638.8 597.5L631.5 597.5L621.5 596.6L608.4 599L612.8 594.2L603.3 596.6L591.6 597.5L585.2 596.6L586.4 591.8L580.2 590.9L572 588.5L560.3 589.5L560.4 586.2L549.8 586.2L541.7 587.1L528.2 589.5L516.5 591.8L511.1 591.8L507.4 589L500.9 588.5L496.2 586.7L486.2 586.2L477.6 584.8L469 583.4L463.3 582.5L456.6 581.1L446.2 583.4L433.9 585.7L421.4 589.5L410.1 592.3L400.6 595.1L403.2 598.5L402.9 601.4L407 603.8L397.8 603.8L387.1 606.2L377 608.2L376.7 612.6L379.6 613.6L388.6 613.6L396.1 613.6L389.8 618.5L383.5 619L373.3 621L363.2 626.1L358.1 628.6L353.8 633.7L356.6 636.2L361.3 637.2L358.5 641.3L365.3 642.4L370.7 642.9L374.6 642.9L367.8 649.1L356.1 654.3L344 658L331.3 662.2L321.7 664.3L333.4 662.2L347.5 658.5L356.4 655.9L370.1 650.7L383.8 645.5L393.4 640.3L406.7 633.7L418.4 630.1L408.6 637.2L400.1 640.3L412.6 637.2L420.7 635.2L429.8 632.1L433.5 634.2L439.2 636.2L446.6 636.7L451 638.3L453.8 641.3L455.8 645.5L455.4 650.2L457.6 654.3L457 659.6L460 663.3L461.9 665.9L461.7 671.2L461.3 677.1L459.3 683.6L463.1 688.9L468.8 690L472.2 693.3L472.7 697.1L469.3 702.5L469.5 698.7L463.3 697.6L460.2 705.3L458.3 709.6L454.4 716.2L448.6 724.5L444.6 730L440.9 738.3L438.4 742.2L438.4 746.6L438.8 753.3L439.8 756.1L438.7 759.4L439.5 762.8L440.1 767.8L440.9 773.9L445.5 775L449.3 777.3L452.8 782.9L452.7 785.7L452.7 791.3L454.1 796.8L456.2 802.4L458.8 808L458.3 811.9L454.4 811.9L460.2 817.5L463.9 822L464 827.6L466.6 831.5L470.5 836L472.3 839.3L475 837.6L474.4 833.2L471.6 830.4L470.4 824.8L469.3 819.2L465.9 813.6L465 808L462.4 800.8L461.2 794L462.2 789.6L467.4 792.4L469.2 796.8L470.1 803.6L472 808.6L475.9 811.9L478.1 816.4L479.6 822L483.4 826.5L485.8 831.5L489.5 837.1L492.6 841.6L493.7 847.1L491.8 852.7L494.1 859.4L499.6 865L506.6 867.3L510.9 870.6L515.9 873.4L522.4 876.2L529.4 878.4L534.1 879.6L539.3 877.3L543.2 876.8L546.3 879.6L550.6 884.6L555 889.1L559.8 890.2L564.6 891.9L569.3 893.5L573.2 894.1L574.9 896.3L578.5 900.2L581.6 904.7L581.8 908.6L581.1 911.4L585 913.1L588.3 914.2L591.1 917L591.9 919.8L594.8 922L599.2 921.5L601.6 923.7L603.9 926.5L607.4 925.9L609 921.5L611.7 917.6L615.1 918.1L617.4 921.5L617.7 924.8L619.1 927.1ZM775.9 602.8L767.4 608.7L760.5 611.1L754.8 618.5L753.5 623.5L747.2 626.1L739.7 622L731.5 619.5L727.7 616L723.5 613.6L710.3 613.6L710.6 610.1L719.3 608.2L727.9 606.2L736 599L732.9 595.1L727.9 591.8L724 587.1L718.7 587.1L711.6 587.1L701.7 586.2L695.8 584.8L689.7 581.6L693.8 575.6L700.5 571.1L711.9 569.8L718.4 570L725 570.3L727.5 573.4L730.8 575.6L740.4 574.3L744 578.8L751.7 580.2L755.6 584.8L761.8 586.2L762.8 590.4L761.8 595.1L768.8 599L773 601.4ZM640.4 589.5L625.8 591.8L614.1 592.8L604.5 593.5L594.8 594.2L587.3 590.9L588.7 586.2L600.8 584.8L592 581.6L588.3 580.2L600.2 574.3L614.3 572.5L620.6 572.9L626.9 573.4L634.2 572.9L641.5 572.5L641.6 575.6L637.3 581.6L643 584.8ZM572.8 581.6L567.9 578.4L576.9 571.1L586.5 567.6L597.7 566.7L607.8 568L609 571.1L591.8 575.6L581.3 580.2ZM664.8 580.2L657.4 578.8L653.2 574.3L662.9 569.8L671.4 569.8L672 574.3ZM680.7 577.9L674.2 575.6L679.8 569.8L692.5 568.9L695.4 571.1L689.6 575.6ZM735.5 565.9L726.7 566.3L718 566.7L709.9 566.5L701.7 566.3L697.7 563.7L703.7 558.1L713.4 558.1L718.8 559.2L724.2 560.2L731.2 560.7L738.1 561.1L739 563.7ZM650.4 564.6L642.9 565.2L635.5 565.9L629.1 565.6L622.7 565.4L616.7 562.4L625.9 558.1L631.5 558.7L637.1 559.4L650.2 558.1L655.6 560.2ZM679.5 563.7L667.9 563.7L662.1 560.2L672.8 556.8L681 558.1L683.4 560.2ZM755.6 558.1L745 558.9L737.3 558.5L729.6 558.1L723.1 558.1L716.7 558.1L715 555.1L729.9 551.8L731.2 547.7L740.9 544.7L737.8 542.1L746 541.5L754.2 541L749.7 539.7L745.2 538.5L738.3 537.9L731.6 537.4L738.6 536.6L745.5 535.8L752.4 535L759.9 534.5L767.4 533.9L774.8 533.4L780.7 533.3L786.6 533.2L792.6 533.1L798.5 533.1L804.6 533.7L810.8 534.4L817 535L819.9 536.7L811.6 538.5L803.2 540.2L795.5 542.1L787.7 543.9L778.6 547L767.8 548.5L763.1 551.8L752.3 554.7ZM728.1 550.6L721.8 550.6L715.5 550.6L709.3 546.6L710.5 542.1L718.2 540.8L725.9 539.5L731.7 542.1L733.4 545.8ZM695.9 618.5L684.2 622L676.2 619.5L672.9 616L681.7 608.7L690.2 607.2L694.4 612.1ZM767.4 680.3L760.8 683.6L756.4 687.9L751.3 693.3L744.9 699.8L744.7 702L752.1 702L758.5 702.5L761.8 706.3L766.1 706.3L769.5 706.9L772.8 702.5L773 697.1L770.8 692.7L766 691.7L762.8 687.9ZM468.9 697.6L462.6 696L459.1 691.7L456.1 685.7L462 684.6L466.9 687.9L469.1 692.7ZM449.9 678.2L447.9 672.8L450.2 667.5L455.2 667.5L452.1 672.8ZM377.1 651.7L386.7 646.5L391.9 646.5L386.3 650.7L378.8 652.8ZM772.9 549.7L783.5 546.8L793.8 543.9L806.9 539.5L815.6 538.1L824.3 536.7L830.6 536.3L836.8 535.9L843.1 535.4L849.3 535L856.4 534.7L863.4 534.4L870.5 534L877.7 533.4L884.9 532.7L892.1 532.1L897.9 531.9L903.8 531.8L909.6 531.6L915.5 531.5L920.9 532.3L926.4 533.2L931.9 534L937.3 535.4L942.8 536.7L948.5 537.3L954.3 537.9L960.2 538.5L966.2 538.5L959.8 540.6L953.3 542.8L946.4 545.8L942.4 549.7L942.5 556L936.6 560.2L937.3 564.6L933 568.9L927 573.4L926 577.9L923.3 582.5L924.6 584.8L917 587.1L908.8 591.8L904.7 594.2L893.5 595.6L881.1 601.4L868.7 606.2L860.6 608.2L852.3 611.1L846.1 618.5L840.7 623.5L837.1 628.6L833.1 635.2L828.7 636.7L821.8 633.7L814.9 631.1L810.9 626.1L809 621L807.6 615.1L806.5 608.7L804.9 603.8L807 599L811 594.2L820.3 589.5L810.8 587.1L811.3 582.5L810.3 577.9L812.3 571.1L811.3 564.6L808.6 561.1L800 559.4L793.2 559.8L786.3 560.2L778.3 558.1L775.5 553.9ZM591.9 844.9L597.4 839.9L604.9 838.2L614.4 838.8L621.2 842.1L628.1 845.5L634.9 848.8L643 854.4L636.5 856.1L626.8 856.1L624.8 852.7L622.7 849.9L615.9 846L607.6 843.2L601.8 843.2L596.7 845.5ZM640.9 864.5L646.2 856.1L653.5 856.1L663.1 856.6L669.7 863.4L664.6 865L657.3 865.6L653.6 868.4L647.6 865.6ZM621.9 865L627.4 863.9L631.4 866.7L627 867.8ZM675.9 864.5L683.1 864.5L682.9 866.7L675.6 866.7ZM628 818.6L632 817.5L632.7 822L629.2 820.3ZM627.1 827.6L629.5 827L629.3 832.1L626.5 831.5ZM247.2 854.4L251.5 856.6L251 858.9L247 861.7L245.9 857.8ZM244.7 850.5L248 851.1L245.8 852.2ZM238.4 846.6L240.6 847.7L239 848.3ZM231.9 843.8L233.8 843.8L232.5 844.9Z"/>
<path id="land-south-america" fill="#aabac9" stroke="#aabac9" stroke-width="0.6" d="M622 918.7L624.7 922.6L629 915.9L631.8 908.6L635.5 905.3L641.9 904.1L648.5 900.2L653.1 897.4L652.8 903L649.6 905.8L650.9 908.6L654.1 905.8L659.4 899.1L661.6 903L667.2 906.9L673.5 908.6L678.4 908.1L683.2 910.9L688.2 908.6L695.6 907.5L698.6 907.5L695.4 911.4L700.3 913.1L703.5 917L707.3 919.8L712.2 922.6L715.9 929.3L721.6 933.8L729 934.3L736.4 934.9L734.2 942.2L735.1 948.9L733.5 954.4L741.4 955L744.4 949.4L748 943.8L750.8 950.5L753.2 957.2L755.6 963.4L755.6 967.3L760.5 968.4L763 972.9L765.5 971.2L770.4 971.2L777.8 974.6L782.8 979.6L785.3 981.8L790.2 980.7L797.6 983.5L805 982.9L812.4 988L818.4 993.6L824.9 995.8L828.3 996.9L829.9 1003.6L831 1009.2L830.6 1012.6L828.7 1019.3L823 1026L819.3 1031.6L813.7 1040L811.6 1048.3L812 1056.7L811.5 1065.1L809.4 1070.7L808.4 1079.1L804.9 1084.7L804.2 1090.3L799.8 1095.8L794 1095.8L787.9 1097.5L779.5 1101.4L772 1108.7L769.8 1115.4L770.7 1123.8L767.1 1129.4L763.5 1137.8L759.8 1145L757 1147.8L752.7 1155.6L750.6 1160.1L746.4 1162.3L740.8 1162.3L734.3 1160.1L729.6 1157.3L730.3 1160.7L736.1 1164.6L737.7 1170.2L740.7 1173.5L737.9 1179.6L732.3 1183.5L723.6 1185.2L717.9 1184.1L719.1 1190.8L719.6 1196.3L712.8 1196.3L708 1195.2L709.9 1201.8L716.6 1204.6L713.5 1206.3L712.4 1210.1L713.6 1218.4L708.7 1219.5L705.7 1223.9L709.3 1228.3L715.3 1230.4L716.8 1234.8L712.3 1242.9L709.5 1246.7L709 1251L714.4 1258L715.5 1261.8L720.7 1267.1L729.8 1270.8L733.1 1270.8L728.8 1273.4L727.2 1277.1L719.3 1275L709.6 1271.9L701.2 1267.1L694.6 1261.8L688 1256.4L682.7 1251L678 1242.9L674.7 1234.8L672.2 1228.3L674 1221.1L673.3 1212.9L671.3 1204.6L668.6 1199.1L667.3 1190.8L667.5 1185.2L664.2 1176.9L665.3 1172.4L665 1165.7L666.5 1154.5L666 1146.1L663.8 1135L663.2 1126.6L663.7 1118.2L664.4 1109.8L663.4 1098.6L663.4 1090.3L662.8 1080.2L660.9 1070.7L655.6 1066.2L649.3 1062.3L641.6 1057.8L635.3 1053.4L629.8 1045.5L629.1 1042.7L624.5 1034.4L621.2 1028.8L617.9 1023.2L615.7 1017.6L612.4 1012L609.2 1006.4L604.6 1001.9L602.5 998L601.8 992.4L605.6 986.9L608 985.2L607.9 981.3L603.5 979.6L603.9 972.9L606.3 969L607.8 964.5L609.3 961.7L613.3 958.9L615.3 953.3L620.3 950.5L621.9 945.5L620.6 939.4L621.4 931L619.1 927.1ZM744.5 1255.3L752 1252.7L757.7 1254.3L754.8 1258L747.4 1257.5Z"/>
<path id="land-oceania" fill="#fce4a8" stroke="#fce4a8" stroke-width="0.6" d="M1548 1090.3L1552.1 1089.1L1553.8 1093L1557.2 1087.5L1566.3 1082.4L1575.3 1080.8L1582.9 1078.5L1591.1 1073.5L1595.5 1067.9L1597.9 1062.3L1602.5 1064L1604.4 1058.4L1608.5 1056.7L1611.8 1051.1L1617.3 1046.7L1622.4 1045L1626.6 1050L1628.9 1051.1L1633.8 1050.6L1636.4 1042.7L1640.6 1037.2L1645.7 1035.5L1650.6 1034.9L1651.2 1030.5L1655.7 1033.2L1662.9 1034.9L1670.3 1033.8L1672.5 1036L1669.3 1041.6L1664.9 1048.3L1663 1051.1L1667.2 1055.6L1673.6 1060.6L1680 1065.1L1686.4 1065.1L1691.8 1053.9L1693.8 1044.4L1695.9 1037.2L1698.9 1028.8L1700.5 1027.1L1702.2 1033.2L1703.8 1040L1704.2 1047.2L1709.6 1050L1710.3 1056.7L1711.3 1061.7L1711.4 1070.7L1714.3 1075.2L1720.5 1080.2L1723 1086.3L1725.1 1091.9L1727.6 1097.5L1731.1 1102.5L1735.1 1108.7L1733.9 1115.4L1732 1121L1731.7 1127.1L1724.6 1137.8L1720.5 1145L1714.2 1150.6L1707.5 1156.8L1702.5 1162.9L1695.5 1170.2L1692.3 1175.2L1690.2 1177.4L1681 1179.1L1671.3 1184.1L1669.4 1185.8L1665.7 1181.9L1664 1180.8L1657.5 1184.1L1651.9 1181.9L1647.6 1179.6L1645.9 1174.1L1647.3 1168.5L1643.8 1166.3L1645.9 1161.8L1646.9 1154.5L1648.1 1149.5L1641.7 1155.6L1635.1 1160.1L1633.1 1162.3L1631.6 1157.3L1630.3 1151.7L1630.5 1148.9L1626.7 1146.7L1621 1143.3L1613.7 1143.9L1605.8 1146.1L1598.1 1147.8L1590.2 1150.1L1581.5 1154.5L1576.8 1156.8L1571.2 1156.8L1561.7 1157.3L1552.9 1161.8L1550.2 1162.9L1543.2 1162.9L1538.4 1159.6L1539.4 1154.5L1544.7 1148.9L1545.9 1145.6L1546.1 1137.8L1546.7 1129.4L1545.7 1122.7L1544.3 1115.4L1546.5 1109.8L1546.3 1104.2L1548.9 1098.6L1549 1093ZM1656.8 1194.6L1663.5 1196.9L1672.3 1195.2L1668.4 1201.8L1661.7 1208.5L1654.4 1210.7L1652.9 1206.3L1655.2 1200.7ZM1806.2 1159.6L1808 1162.9L1809.3 1168.5L1807.5 1173.5L1812.8 1172.4L1810.5 1177.4L1814.5 1179.6L1821.6 1178L1815.2 1184.1L1808.6 1186.9L1805.4 1190.8L1796.3 1197.4L1791 1199.6L1790.5 1198L1796 1192.4L1796.6 1189.6L1794.1 1186.9L1799.6 1184.1L1803.8 1178.5L1805.6 1172.9L1805.6 1164.6ZM1784.3 1193.5L1783.7 1197.4L1788.2 1197.4L1785.6 1200.7L1779.5 1204.6L1771.9 1210.1L1771 1212.3L1761.7 1214.5L1755.8 1220L1751.3 1223.3L1743.3 1227.2L1738.1 1227.2L1736.4 1225L1733.8 1222.8L1739.5 1218.4L1747.5 1214L1754.1 1211.2L1763.9 1207.4L1770.5 1203.5L1776.1 1199.1L1780.8 1195.2ZM1696.5 981.8L1703.8 985.2L1713.4 989.1L1719.4 996.4L1725 1000.8L1728.7 1004.7L1729.1 1012L1733.5 1017.6L1737.6 1024.3L1741.3 1026.5L1735.1 1024.9L1727.9 1023.7L1724.3 1020.4L1719.1 1013.1L1713.5 1010.3L1706.8 1013.7L1703.9 1018.7L1694.1 1018.2L1695.1 1006L1695.9 993.9ZM1732.6 998L1740.1 995.2L1747.8 990.8L1751.7 991.3L1749.9 996.9L1742.2 1001.9L1734.8 1001.9ZM1744.8 981.8L1750.5 985.2L1755.1 991.3L1754 993.6L1749.4 987.4ZM1771.4 1004.7L1776.1 1008.1L1780.8 1010.9L1775.7 1012L1771.2 1007.5ZM1784.8 1019.3L1791.1 1020.4L1794 1024.9L1787.9 1022.6ZM1814.8 1051.1L1817.1 1053.9L1817.4 1059.5L1814.8 1055.6ZM1795.6 1079.6L1801.7 1084.7L1807.1 1091.9L1803.7 1091.9L1797.9 1086.3ZM1863.8 1065.1L1869.7 1064.5L1869.1 1069L1863.3 1069ZM1872.4 1059.5L1878.6 1057.8L1875.3 1061.7Z"/>
<path id="land-antarctica" fill="#fbc383" d="M763 1327.5L765 1322L772 1320L778 1316L784 1314.5L785.5 1317L779 1320.5L773 1324L770 1327.5Z"/>
<g id="bubbles" stroke="#fff" stroke-width="3.3" stroke-opacity="0.82" fill-opacity="0.84">
<circle cx="863.9" cy="565.9" r="7.2" fill="#ea8f70"><title>Greenland</title></circle>
<circle cx="629" cy="824.5" r="7.2" fill="#ea8f70"><title>Bahamas</title></circle>
<circle cx="620.9" cy="846.1" r="7.2" fill="#ea8f70"><title>Cuba</title></circle>
<circle cx="626.5" cy="865.6" r="7.2" fill="#ea8f70"><title>Jamaica</title></circle>
<circle cx="660" cy="861.8" r="7.2" fill="#ea8f70"><title>Dominican Republic</title></circle>
<circle cx="678.9" cy="865" r="7.2" fill="#ea8f70"><title>Puerto Rico</title></circle>
<circle cx="561.5" cy="879.6" r="7.2" fill="#ea8f70"><title>Guatemala</title></circle>
<circle cx="579.6" cy="884.5" r="7.2" fill="#ea8f70"><title>Honduras</title></circle>
<circle cx="589.1" cy="911.2" r="7.2" fill="#ea8f70"><title>Costa Rica</title></circle>
<circle cx="608.4" cy="919.4" r="7.2" fill="#ea8f70"><title>Panama</title></circle>
<circle cx="676.9" cy="927.3" r="7.2" fill="#ea8f70"><title>Venezuela</title></circle>
<circle cx="642.3" cy="945.3" r="7.2" fill="#ea8f70"><title>Colombia</title></circle>
<circle cx="615.9" cy="975.3" r="7.2" fill="#ea8f70"><title>Ecuador</title></circle>
<circle cx="636.9" cy="1018.6" r="7.2" fill="#ea8f70"><title>Peru</title></circle>
<circle cx="687.5" cy="1060.7" r="7.2" fill="#ea8f70"><title>Bolivia</title></circle>
<circle cx="720.9" cy="1097.2" r="7.2" fill="#ea8f70"><title>Paraguay</title></circle>
<circle cx="739.5" cy="1150.5" r="7.2" fill="#ea8f70"><title>Uruguay</title></circle>
<circle cx="699.8" cy="1165.2" r="7.2" fill="#ea8f70"><title>Argentina</title></circle>
<circle cx="675.8" cy="1185.3" r="7.2" fill="#ea8f70"><title>Chile</title></circle>
<circle cx="750.7" cy="1254.4" r="7.2" fill="#ea8f70"><title>Falkland Islands</title></circle>
<circle cx="931.9" cy="610.9" r="7.2" fill="#ea8f70"><title>Iceland</title></circle>
<circle cx="1057.3" cy="591" r="7.2" fill="#ea8f70"><title>Norway</title></circle>
<circle cx="1065.5" cy="622.1" r="7.2" fill="#ea8f70"><title>Sweden</title></circle>
<circle cx="1100.9" cy="613.7" r="7.2" fill="#ea8f70"><title>Finland</title></circle>
<circle cx="1105.2" cy="642.7" r="7.2" fill="#ea8f70"><title>Estonia</title></circle>
<circle cx="1103.2" cy="652.9" r="7.2" fill="#ea8f70"><title>Latvia</title></circle>
<circle cx="1100.2" cy="661.2" r="7.2" fill="#ea8f70"><title>Lithuania</title></circle>
<circle cx="1118.4" cy="670.3" r="7.2" fill="#ea8f70"><title>Belarus</title></circle>
<circle cx="1042.2" cy="656.5" r="7.2" fill="#ea8f70"><title>Denmark</title></circle>
<circle cx="968.3" cy="671.8" r="7.2" fill="#ea8f70"><title>Ireland</title></circle>
<circle cx="1025.3" cy="676.1" r="7.2" fill="#ea8f70"><title>Netherlands</title></circle>
<circle cx="1021.5" cy="686.2" r="7.2" fill="#ea8f70"><title>Belgium</title></circle>
<circle cx="1028" cy="691" r="7.2" fill="#ea8f70"><title>Luxembourg</title></circle>
<circle cx="1067.8" cy="690.3" r="7.2" fill="#ea8f70"><title>Czechia</title></circle>
<circle cx="1086.3" cy="695.4" r="7.2" fill="#ea8f70"><title>Slovakia</title></circle>
<circle cx="1086.3" cy="705.1" r="7.2" fill="#ea8f70"><title>Hungary</title></circle>
<circle cx="1063.1" cy="701.1" r="7.2" fill="#ea8f70"><title>Austria</title></circle>
<circle cx="1067.8" cy="709.8" r="7.2" fill="#ea8f70"><title>Slovenia</title></circle>
<circle cx="1037.4" cy="705.8" r="7.2" fill="#ea8f70"><title>Switzerland</title></circle>
<circle cx="1080.6" cy="720.4" r="7.2" fill="#ea8f70"><title>Croatia</title></circle>
<circle cx="1094.4" cy="720.4" r="7.2" fill="#ea8f70"><title>Serbia</title></circle>
<circle cx="1111.7" cy="711.2" r="7.2" fill="#ea8f70"><title>Romania</title></circle>
<circle cx="1125.9" cy="704.4" r="7.2" fill="#ea8f70"><title>Moldova</title></circle>
<circle cx="1137.1" cy="694.3" r="7.2" fill="#ea8f70"><title>Ukraine</title></circle>
<circle cx="1114.8" cy="728.5" r="7.2" fill="#ea8f70"><title>Bulgaria</title></circle>
<circle cx="1090.4" cy="737.5" r="7.2" fill="#ea8f70"><title>Albania</title></circle>
<circle cx="1100.2" cy="735.1" r="7.2" fill="#ea8f70"><title>North Macedonia</title></circle>
<circle cx="1197.1" cy="732" r="7.2" fill="#ea8f70"><title>Georgia</title></circle>
<circle cx="1293.3" cy="698.9" r="7.2" fill="#ea8f70"><title>Kazakhstan</title></circle>
<circle cx="1286.3" cy="734.3" r="7.2" fill="#ea8f70"><title>Uzbekistan</title></circle>
<circle cx="1272.1" cy="748.8" r="7.2" fill="#ea8f70"><title>Turkmenistan</title></circle>
<circle cx="1338.2" cy="735.6" r="7.2" fill="#ea8f70"><title>Kyrgyzstan</title></circle>
<circle cx="1326.7" cy="751.8" r="7.2" fill="#ea8f70"><title>Tajikistan</title></circle>
<circle cx="1310.2" cy="778.1" r="7.2" fill="#ea8f70"><title>Afghanistan</title></circle>
<circle cx="1155.4" cy="771.8" r="7.2" fill="#ea8f70"><title>Cyprus</title></circle>
<circle cx="1181" cy="771.5" r="7.2" fill="#ea8f70"><title>Syria</title></circle>
<circle cx="1169.1" cy="777.5" r="7.2" fill="#ea8f70"><title>Lebanon</title></circle>
<circle cx="1166.2" cy="788.3" r="7.2" fill="#ea8f70"><title>Israel</title></circle>
<circle cx="1175.5" cy="792.7" r="7.2" fill="#ea8f70"><title>Jordan</title></circle>
<circle cx="1206.7" cy="782.6" r="7.2" fill="#ea8f70"><title>Iraq</title></circle>
<circle cx="1227.2" cy="803.4" r="7.2" fill="#ea8f70"><title>Kuwait</title></circle>
<circle cx="1215.7" cy="832.5" r="7.2" fill="#ea8f70"><title>Saudi Arabia</title></circle>
<circle cx="1247" cy="825.6" r="7.2" fill="#ea8f70"><title>Qatar</title></circle>
<circle cx="1262.5" cy="834.2" r="7.2" fill="#ea8f70"><title>United Arab Emirates</title></circle>
<circle cx="1273.1" cy="852" r="7.2" fill="#ea8f70"><title>Oman</title></circle>
<circle cx="1233.5" cy="878.4" r="7.2" fill="#ea8f70"><title>Yemen</title></circle>
<circle cx="1401.5" cy="809.5" r="7.2" fill="#ea8f70"><title>Nepal</title></circle>
<circle cx="1435.7" cy="834" r="7.2" fill="#ea8f70"><title>Bangladesh</title></circle>
<circle cx="1468" cy="849.6" r="7.2" fill="#ea8f70"><title>Myanmar</title></circle>
<circle cx="1505.4" cy="864.1" r="7.2" fill="#ea8f70"><title>Laos</title></circle>
<circle cx="1518.8" cy="874.6" r="7.2" fill="#ea8f70"><title>Vietnam</title></circle>
<circle cx="1515" cy="895.7" r="7.2" fill="#ea8f70"><title>Cambodia</title></circle>
<circle cx="1578.6" cy="742.8" r="7.2" fill="#ea8f70"><title>North Korea</title></circle>
<circle cx="1603.5" cy="900.5" r="7.2" fill="#ea8f70"><title>Philippines</title></circle>
<circle cx="1567.8" cy="941.2" r="7.2" fill="#ea8f70"><title>Brunei</title></circle>
<circle cx="1398.1" cy="923.7" r="7.2" fill="#ea8f70"><title>Sri Lanka</title></circle>
<circle cx="1046.3" cy="776.3" r="7.2" fill="#ea8f70"><title>Tunisia</title></circle>
<circle cx="962.4" cy="800.4" r="7.2" fill="#ea8f70"><title>Morocco</title></circle>
<circle cx="1014.5" cy="809.5" r="7.2" fill="#ea8f70"><title>Algeria</title></circle>
<circle cx="1087.7" cy="816.6" r="7.2" fill="#ea8f70"><title>Libya</title></circle>
<circle cx="1144.5" cy="819" r="7.2" fill="#ea8f70"><title>Egypt</title></circle>
<circle cx="944.1" cy="831.3" r="7.2" fill="#ea8f70"><title>Mauritania</title></circle>
<circle cx="984.7" cy="870.8" r="7.2" fill="#ea8f70"><title>Mali</title></circle>
<circle cx="1047.3" cy="870.4" r="7.2" fill="#ea8f70"><title>Niger</title></circle>
<circle cx="1147.5" cy="877.7" r="7.2" fill="#ea8f70"><title>Sudan</title></circle>
<circle cx="1190.4" cy="881" r="7.2" fill="#ea8f70"><title>Eritrea</title></circle>
<circle cx="931.3" cy="886.3" r="7.2" fill="#ea8f70"><title>Senegal</title></circle>
<circle cx="926.6" cy="891.7" r="7.2" fill="#ea8f70"><title>Gambia</title></circle>
<circle cx="993.3" cy="898.2" r="7.2" fill="#ea8f70"><title>Burkina Faso</title></circle>
<circle cx="1209.4" cy="901.5" r="7.2" fill="#ea8f70"><title>Djibouti</title></circle>
<circle cx="947.9" cy="908.4" r="7.2" fill="#ea8f70"><title>Guinea</title></circle>
<circle cx="944.5" cy="920" r="7.2" fill="#ea8f70"><title>Sierra Leone</title></circle>
<circle cx="974.3" cy="925.2" r="7.2" fill="#ea8f70"><title>Cote d'Ivoire</title></circle>
<circle cx="995.5" cy="923.1" r="7.2" fill="#ea8f70"><title>Ghana</title></circle>
<circle cx="1006.9" cy="920.3" r="7.2" fill="#ea8f70"><title>Togo</title></circle>
<circle cx="1013.8" cy="913.3" r="7.2" fill="#ea8f70"><title>Benin</title></circle>
<circle cx="1041" cy="913.8" r="7.2" fill="#ea8f70"><title>Nigeria</title></circle>
<circle cx="1196.1" cy="918.9" r="7.2" fill="#ea8f70"><title>Ethiopia</title></circle>
<circle cx="1063.9" cy="935.6" r="7.2" fill="#ea8f70"><title>Cameroon</title></circle>
<circle cx="1102.2" cy="930.8" r="7.2" fill="#ea8f70"><title>Central African Republic</title></circle>
<circle cx="1053.3" cy="957.8" r="7.2" fill="#ea8f70"><title>Gabon</title></circle>
<circle cx="1076.5" cy="971.9" r="7.2" fill="#ea8f70"><title>Congo</title></circle>
<circle cx="1161.3" cy="960.2" r="7.2" fill="#ea8f70"><title>Uganda</title></circle>
<circle cx="1188.1" cy="963.7" r="7.2" fill="#ea8f70"><title>Kenya</title></circle>
<circle cx="1117.9" cy="983.1" r="7.2" fill="#ea8f70"><title>DR Congo</title></circle>
<circle cx="1149" cy="978.1" r="7.2" fill="#ea8f70"><title>Rwanda</title></circle>
<circle cx="1149" cy="986.8" r="7.2" fill="#ea8f70"><title>Burundi</title></circle>
<circle cx="1173" cy="1002.1" r="7.2" fill="#ea8f70"><title>Tanzania</title></circle>
<circle cx="1087.5" cy="1035.6" r="7.2" fill="#ea8f70"><title>Angola</title></circle>
<circle cx="1146.2" cy="1072.7" r="7.2" fill="#ea8f70"><title>Zambia</title></circle>
<circle cx="1174.5" cy="1063.5" r="7.2" fill="#ea8f70"><title>Mozambique</title></circle>
<circle cx="1228.3" cy="1075.6" r="7.2" fill="#ea8f70"><title>Madagascar</title></circle>
<circle cx="1084.7" cy="1090.7" r="7.2" fill="#ea8f70"><title>Namibia</title></circle>
<circle cx="1116.4" cy="1090.7" r="7.2" fill="#ea8f70"><title>Botswana</title></circle>
<circle cx="1120.5" cy="1129.3" r="7.2" fill="#ea8f70"><title>South Africa</title></circle>
<circle cx="1135.2" cy="1132.6" r="7.2" fill="#ea8f70"><title>Lesotho</title></circle>
<circle cx="1300.7" cy="1242" r="7.2" fill="#ea8f70"><title>French Southern Territories</title></circle>
<circle cx="1716.1" cy="1002.9" r="7.2" fill="#ea8f70"><title>Papua New Guinea</title></circle>
<circle cx="1786.9" cy="1016.5" r="7.2" fill="#ea8f70"><title>Solomon Islands</title></circle>
<circle cx="1798.3" cy="1064" r="7.2" fill="#ea8f70"><title>Vanuatu</title></circle>
<circle cx="1779" cy="1199.4" r="7.2" fill="#ea8f70"><title>New Zealand</title></circle>
<circle cx="509.1" cy="833.7" r="12.7" fill="#e46b5f"><title>Mexico</title></circle>
<circle cx="741.9" cy="1027.6" r="12.7" fill="#e46b5f"><title>Brazil</title></circle>
<circle cx="989.5" cy="730.1" r="12.7" fill="#e46b5f"><title>France</title></circle>
<circle cx="965.2" cy="745.9" r="12.7" fill="#e46b5f"><title>Portugal</title></circle>
<circle cx="1045.5" cy="682.8" r="12.7" fill="#e46b5f"><title>Germany</title></circle>
<circle cx="1083.1" cy="677.2" r="12.7" fill="#e46b5f"><title>Poland</title></circle>
<circle cx="1105.6" cy="749" r="12.7" fill="#e46b5f"><title>Greece</title></circle>
<circle cx="1375.9" cy="626.3" r="12.7" fill="#e46b5f"><title>Russia</title></circle>
<circle cx="1161.9" cy="748.9" r="12.7" fill="#e46b5f"><title>Turkey</title></circle>
<circle cx="1256.5" cy="785.6" r="12.7" fill="#e46b5f"><title>Iran</title></circle>
<circle cx="1330.5" cy="800.1" r="12.7" fill="#e46b5f"><title>Pakistan</title></circle>
<circle cx="1451.6" cy="706.1" r="12.7" fill="#e46b5f"><title>Mongolia</title></circle>
<circle cx="1495" cy="882.9" r="12.7" fill="#e46b5f"><title>Thailand</title></circle>
<circle cx="1542.2" cy="945.9" r="12.7" fill="#e46b5f"><title>Malaysia</title></circle>
<circle cx="1580.2" cy="979.2" r="12.7" fill="#e46b5f"><title>Indonesia</title></circle>
<circle cx="1636.5" cy="756.2" r="12.7" fill="#e46b5f"><title>Japan</title></circle>
<circle cx="1645.7" cy="1110.6" r="12.7" fill="#e46b5f"><title>Australia</title></circle>
<circle cx="621.1" cy="628.5" r="15.5" fill="#d54f68"><title>Canada</title></circle>
<circle cx="990.2" cy="668" r="15.5" fill="#d54f68"><title>United Kingdom</title></circle>
<circle cx="1056.3" cy="727.4" r="15.5" fill="#d54f68"><title>Italy</title></circle>
<circle cx="985.7" cy="742.6" r="15.5" fill="#d54f68"><title>Spain</title></circle>
<circle cx="1592" cy="763.5" r="15.5" fill="#d54f68"><title>South Korea</title></circle>
<circle cx="1385" cy="839.2" r="18.9" fill="#b53e70"><title>India</title></circle>
<circle cx="507.2" cy="712.2" r="20.9" fill="#8f3972"><title>United States</title></circle>
<circle cx="1481.5" cy="763.2" r="24.4" fill="#752f70"><title>China</title></circle>
</g>
</g>
<path id="map-outline" d="M516.1 520.6L509.2 522.6L502.1 524.8L494.5 527.4L486.3 530.2L477.7 533.4L468.9 536.7L459.9 540.2L450.9 543.9L441.8 547.7L432.4 551.8L423 556L413.7 560.2L404.9 564.6L396.4 568.9L388.2 573.4L380.2 577.9L372.3 582.5L364.6 587.1L357 591.8L349.7 596.6L342.4 601.4L335.3 606.2L328.1 611.1L321.1 616L314.1 621L307.2 626.1L300.4 631.1L293.6 636.2L287 641.3L280.4 646.5L273.9 651.7L267.6 657L261.4 662.2L255.3 667.5L249.3 672.8L243.4 678.2L237.7 683.6L232.2 688.9L226.8 694.4L221.7 699.8L216.7 705.3L211.9 710.7L207.1 716.2L202.3 721.7L197.7 727.2L193.2 732.8L188.8 738.3L184.5 743.8L180.5 749.4L176.6 755L172.9 760.5L169.3 766.1L165.8 771.7L162.5 777.3L159.3 782.9L156.2 788.5L153.3 794L150.5 799.6L147.9 805.2L145.4 810.8L143.1 816.4L141 822L138.9 827.6L137.1 833.2L135.4 838.8L133.8 844.3L132.3 849.9L130.8 855.5L130.6 856.2L130.6 1078.4L130.8 1079.1L132.3 1084.7L133.8 1090.3L135.4 1095.8L137.1 1101.4L138.9 1107L141 1112.6L143.1 1118.2L145.4 1123.8L147.9 1129.4L150.5 1135L153.3 1140.6L156.2 1146.1L159.3 1151.7L162.5 1157.3L165.8 1162.9L169.3 1168.5L172.9 1174.1L176.6 1179.6L180.5 1185.2L184.5 1190.8L188.8 1196.3L193.2 1201.8L197.7 1207.4L202.3 1212.9L207.1 1218.4L211.9 1223.9L216.7 1229.3L221.7 1234.8L226.8 1240.2L232.2 1245.7L237.7 1251L243.4 1256.4L249.3 1261.8L255.3 1267.1L261.4 1272.4L267.6 1277.6L273.9 1282.9L280.4 1288.1L287 1293.3L293.6 1298.4L300.4 1303.5L307.2 1308.5L314.1 1313.6L321.1 1318.6L328.1 1323.5L334.8 1328.1L1669.2 1328.1L1675.9 1323.5L1682.9 1318.6L1689.9 1313.6L1696.8 1308.5L1703.6 1303.5L1710.4 1298.4L1717 1293.3L1723.6 1288.1L1730.1 1282.9L1736.4 1277.6L1742.6 1272.4L1748.7 1267.1L1754.7 1261.8L1760.6 1256.4L1766.3 1251L1771.8 1245.7L1777.2 1240.2L1782.3 1234.8L1787.3 1229.3L1792.1 1223.9L1796.9 1218.4L1801.7 1212.9L1806.3 1207.4L1810.8 1201.8L1815.2 1196.3L1819.5 1190.8L1823.5 1185.2L1827.4 1179.6L1831.1 1174.1L1834.7 1168.5L1838.2 1162.9L1841.5 1157.3L1844.7 1151.7L1847.8 1146.1L1850.7 1140.6L1853.5 1135L1856.1 1129.4L1858.6 1123.8L1860.9 1118.2L1863 1112.6L1865.1 1107L1866.9 1101.4L1868.6 1095.8L1870.2 1090.3L1871.7 1084.7L1873.2 1079.1L1873.4 1078.4L1873.4 856.2L1873.2 855.5L1871.7 849.9L1870.2 844.3L1868.6 838.8L1866.9 833.2L1865.1 827.6L1863 822L1860.9 816.4L1858.6 810.8L1856.1 805.2L1853.5 799.6L1850.7 794L1847.8 788.5L1844.7 782.9L1841.5 777.3L1838.2 771.7L1834.7 766.1L1831.1 760.5L1827.4 755L1823.5 749.4L1819.5 743.8L1815.2 738.3L1810.8 732.8L1806.3 727.2L1801.7 721.7L1796.9 716.2L1792.1 710.7L1787.3 705.3L1782.3 699.8L1777.2 694.4L1771.8 688.9L1766.3 683.6L1760.6 678.2L1754.7 672.8L1748.7 667.5L1742.6 662.2L1736.4 657L1730.1 651.7L1723.6 646.5L1717 641.3L1710.4 636.2L1703.6 631.1L1696.8 626.1L1689.9 621L1682.9 616L1675.9 611.1L1668.7 606.2L1661.6 601.4L1654.3 596.6L1647 591.8L1639.4 587.1L1631.7 582.5L1623.8 577.9L1615.8 573.4L1607.6 568.9L1599.1 564.6L1590.3 560.2L1581 556L1571.6 551.8L1562.2 547.7L1553.1 543.9L1544.1 540.2L1535.1 536.7L1526.3 533.4L1517.7 530.2L1509.5 527.4L1501.9 524.8L1494.8 522.6L1487.9 520.6L1481 518.7L1474.1 516.6L529.9 516.6L523 518.7Z" fill="none" stroke="#000" stroke-width="3" stroke-linejoin="miter"/>
<g id="connectors" fill="none" stroke="#5e4a3f" stroke-width="3.8" stroke-linejoin="miter">
<path d="M297.8 457V647.8H490.7"/>
<path d="M1041.5 457V633.6" stroke-width="4.8"/>
<path d="M1719.5 457V716.3H1522.5"/>
<path d="M695.2 1103H487.3V1414"/>
<path d="M1101 1108.1V1413.6"/>
<path d="M1708.1 1107.4H1761V1417"/>
</g>
<g id="chart-na" font-family="'DejaVu Sans','Liberation Sans',sans-serif" fill="#000" stroke="#000" stroke-width="0" >
<clipPath id="clip-na"><rect x="69.04" y="49.72" width="481.15" height="358.22"/></clipPath>
<g clip-path="url(#clip-na)" shape-rendering="crispEdges">
<rect x="112.08" y="388.73" width="56.94" height="19.51" fill="#117733"/>
<rect x="112.08" y="271.48" width="56.94" height="117.56" fill="#EE7733"/>
<rect x="112.08" y="252.27" width="56.94" height="19.51" fill="#004488"/>
<rect x="112.08" y="192.94" width="56.94" height="59.63" fill="#88CCEE"/>
<rect x="112.08" y="162.24" width="56.94" height="31" fill="#44AA99"/>
<rect x="112.08" y="139.82" width="56.94" height="22.71" fill="#DDCC77"/>
<rect x="112.08" y="100.14" width="56.94" height="39.98" fill="#CC6677"/>
<rect x="112.08" y="97.99" width="56.94" height="2.45" fill="#882255"/>
<rect x="112.08" y="78.07" width="56.94" height="20.22" fill="#AA4499"/>
<rect x="112.08" y="66.78" width="56.94" height="11.59" fill="#666666"/>
<rect x="224.96" y="353.7" width="56.94" height="54.54" fill="#117733"/>
<rect x="224.96" y="245.65" width="56.94" height="108.35" fill="#EE7733"/>
<rect x="224.96" y="234.12" width="56.94" height="11.83" fill="#004488"/>
<rect x="224.96" y="199.59" width="56.94" height="34.83" fill="#88CCEE"/>
<rect x="224.96" y="163.91" width="56.94" height="35.99" fill="#44AA99"/>
<rect x="224.96" y="139.99" width="56.94" height="24.22" fill="#DDCC77"/>
<rect x="224.96" y="108.3" width="56.94" height="31.99" fill="#CC6677"/>
<rect x="224.96" y="93.01" width="56.94" height="15.58" fill="#882255"/>
<rect x="224.96" y="73.6" width="56.94" height="19.71" fill="#AA4499"/>
<rect x="224.96" y="66.78" width="56.94" height="7.12" fill="#666666"/>
<rect x="337.83" y="339.26" width="56.94" height="68.98" fill="#117733"/>
<rect x="337.83" y="249.47" width="56.94" height="90.09" fill="#EE7733"/>
<rect x="337.83" y="225.83" width="56.94" height="23.94" fill="#004488"/>
<rect x="337.83" y="199.25" width="56.94" height="26.88" fill="#88CCEE"/>
<rect x="337.83" y="163.22" width="56.94" height="36.33" fill="#44AA99"/>
<rect x="337.83" y="138.15" width="56.94" height="25.38" fill="#DDCC77"/>
<rect x="337.83" y="108.3" width="56.94" height="30.15" fill="#CC6677"/>
<rect x="337.83" y="88.03" width="56.94" height="20.57" fill="#882255"/>
<rect x="337.83" y="70.6" width="56.94" height="17.73" fill="#AA4499"/>
<rect x="337.83" y="66.78" width="56.94" height="4.12" fill="#666666"/>
<rect x="450.71" y="305.01" width="56.94" height="103.23" fill="#117733"/>
<rect x="450.71" y="225.49" width="56.94" height="79.82" fill="#EE7733"/>
<rect x="450.71" y="200.1" width="56.94" height="25.68" fill="#004488"/>
<rect x="450.71" y="179.02" width="56.94" height="21.38" fill="#88CCEE"/>
<rect x="450.71" y="155.1" width="56.94" height="24.22" fill="#44AA99"/>
<rect x="450.71" y="128.36" width="56.94" height="27.05" fill="#DDCC77"/>
<rect x="450.71" y="109.08" width="56.94" height="19.58" fill="#CC6677"/>
<rect x="450.71" y="88.03" width="56.94" height="21.35" fill="#882255"/>
<rect x="450.71" y="69.78" width="56.94" height="18.55" fill="#AA4499"/>
<rect x="450.71" y="66.78" width="56.94" height="3.3" fill="#666666"/>
</g>
<g clip-path="url(#clip-na)" fill="none" stroke-linejoin="round" stroke-linecap="square">
<polyline points="90.91,397.28 105.02,398.8 119.13,366.06 133.24,397.28 147.35,391.95 161.46,387.07 175.57,368.8 189.68,373.06 203.79,378.7 217.9,352.2 232.01,365.45 246.12,343.97 260.23,345.5 274.34,331.79 288.45,354.79 302.56,329.66 316.67,310.77 330.78,291.88 344.89,225.48 359,263.56 373.11,246.65 387.22,249.7 401.33,245.74 415.44,211.47 429.55,211.47 443.66,170.8 457.77,206.29 471.88,208.27 485.99,174.91 500.1,109.42 514.21,97.7 528.32,47.74" stroke="#fff" stroke-width="6.4"/>
<polyline points="90.91,397.28 105.02,398.8 119.13,366.06 133.24,397.28 147.35,391.95 161.46,387.07 175.57,368.8 189.68,373.06 203.79,378.7 217.9,352.2 232.01,365.45 246.12,343.97 260.23,345.5 274.34,331.79 288.45,354.79 302.56,329.66 316.67,310.77 330.78,291.88 344.89,225.48 359,263.56 373.11,246.65 387.22,249.7 401.33,245.74 415.44,211.47 429.55,211.47 443.66,170.8 457.77,206.29 471.88,208.27 485.99,174.91 500.1,109.42 514.21,97.7 528.32,47.74" stroke="#03045e" stroke-width="4.3"/>
</g>
<rect x="69.04" y="49.72" width="481.15" height="358.22" fill="none" stroke="#000" stroke-width="1.5"/>
<path d="M90.91 407.94v4.1M161.46 407.94v4.1M232.01 407.94v4.1M302.56 407.94v4.1M373.11 407.94v4.1M443.66 407.94v4.1M514.21 407.94v4.1M69.04 407.94h-4.1M69.04 339.71h-4.1M69.04 271.48h-4.1M69.04 203.24h-4.1M69.04 135.01h-4.1M69.04 66.78h-4.1M550.19 407.94h4.1M550.19 331.79h4.1M550.19 255.64h4.1M550.19 179.48h4.1M550.19 103.33h4.1" stroke="#000" stroke-width="1.2" fill="none"/>
<g font-size="19.5" stroke-width="0.15">
<text x="90.91" y="431.14" text-anchor="middle">1990</text>
<text x="161.46" y="431.14" text-anchor="middle">1995</text>
<text x="232.01" y="431.14" text-anchor="middle">2000</text>
<text x="302.56" y="431.14" text-anchor="middle">2005</text>
<text x="373.11" y="431.14" text-anchor="middle">2010</text>
<text x="443.66" y="431.14" text-anchor="middle">2015</text>
<text x="514.21" y="431.14" text-anchor="middle">2020</text>
<text x="61.84" y="415.14" text-anchor="end">0.0</text>
<text x="61.84" y="346.91" text-anchor="end">0.2</text>
<text x="61.84" y="278.68" text-anchor="end">0.4</text>
<text x="61.84" y="210.44" text-anchor="end">0.6</text>
<text x="61.84" y="142.21" text-anchor="end">0.8</text>
<text x="61.84" y="73.98" text-anchor="end">1.0</text>
<text x="557.59" y="415.14">0</text>
<text x="557.59" y="338.99">50</text>
<text x="557.59" y="262.84">100</text>
<text x="557.59" y="186.68">150</text>
<text x="557.59" y="110.53">200</text>
</g>
<g font-size="18.4" stroke-width="0.15">
<text x="138.9" y="42.68" text-anchor="middle">1990-1997</text>
<text x="255.1" y="42.68" text-anchor="middle">1998-2005</text>
<text x="367" y="42.68" text-anchor="middle">2006-2013</text>
<text x="479.4" y="42.68" text-anchor="middle">2014-2021</text>
</g>
<g font-size="19.4" text-anchor="middle" stroke-width="0.15">
<text x="309.62" y="16.12">North America</text>
<text x="309.62" y="453.54">Publication year</text>
<text transform="translate(22.24 228.83) rotate(-90)">Percentage of pollutants</text>
<text transform="translate(614.19 228.83) rotate(-90)">Number of papers peer year</text>
</g>
</g>
<g id="chart-eu" font-family="'DejaVu Sans','Liberation Sans',sans-serif" fill="#000" stroke="#000" stroke-width="0" >
<clipPath id="clip-eu"><rect x="756.8" y="49.72" width="481.15" height="358.22"/></clipPath>
<g clip-path="url(#clip-eu)" shape-rendering="crispEdges">
<rect x="785.96" y="389.76" width="58.82" height="18.48" fill="#117733"/>
<rect x="785.96" y="294.44" width="58.82" height="95.62" fill="#EE7733"/>
<rect x="785.96" y="256.74" width="58.82" height="38" fill="#004488"/>
<rect x="785.96" y="167.83" width="58.82" height="89.21" fill="#88CCEE"/>
<rect x="785.96" y="133.13" width="58.82" height="35" fill="#44AA99"/>
<rect x="785.96" y="120.68" width="58.82" height="12.75" fill="#DDCC77"/>
<rect x="785.96" y="95.09" width="58.82" height="25.89" fill="#CC6677"/>
<rect x="785.96" y="89.02" width="58.82" height="6.37" fill="#882255"/>
<rect x="785.96" y="73.26" width="58.82" height="16.06" fill="#AA4499"/>
<rect x="785.96" y="66.78" width="58.82" height="6.78" fill="#666666"/>
<rect x="902.6" y="354.72" width="58.82" height="53.52" fill="#117733"/>
<rect x="902.6" y="259.09" width="58.82" height="95.93" fill="#EE7733"/>
<rect x="902.6" y="225.76" width="58.82" height="33.63" fill="#004488"/>
<rect x="902.6" y="187.34" width="58.82" height="38.71" fill="#88CCEE"/>
<rect x="902.6" y="149.34" width="58.82" height="38.31" fill="#44AA99"/>
<rect x="902.6" y="126.14" width="58.82" height="23.5" fill="#DDCC77"/>
<rect x="902.6" y="98.16" width="58.82" height="28.28" fill="#CC6677"/>
<rect x="902.6" y="91.68" width="58.82" height="6.78" fill="#882255"/>
<rect x="902.6" y="72.58" width="58.82" height="19.41" fill="#AA4499"/>
<rect x="902.6" y="66.78" width="58.82" height="6.1" fill="#666666"/>
<rect x="1019.25" y="327.77" width="58.82" height="80.47" fill="#117733"/>
<rect x="1019.25" y="231.8" width="58.82" height="96.27" fill="#EE7733"/>
<rect x="1019.25" y="200.17" width="58.82" height="31.93" fill="#004488"/>
<rect x="1019.25" y="166.81" width="58.82" height="33.67" fill="#88CCEE"/>
<rect x="1019.25" y="137.5" width="58.82" height="29.61" fill="#44AA99"/>
<rect x="1019.25" y="117.95" width="58.82" height="19.85" fill="#DDCC77"/>
<rect x="1019.25" y="98.85" width="58.82" height="19.41" fill="#CC6677"/>
<rect x="1019.25" y="84.96" width="58.82" height="14.19" fill="#882255"/>
<rect x="1019.25" y="71.55" width="58.82" height="13.71" fill="#AA4499"/>
<rect x="1019.25" y="66.78" width="58.82" height="5.08" fill="#666666"/>
<rect x="1135.89" y="302.18" width="58.82" height="106.06" fill="#117733"/>
<rect x="1135.89" y="224.05" width="58.82" height="78.43" fill="#EE7733"/>
<rect x="1135.89" y="182.98" width="58.82" height="41.38" fill="#004488"/>
<rect x="1135.89" y="158.72" width="58.82" height="24.56" fill="#88CCEE"/>
<rect x="1135.89" y="133.82" width="58.82" height="25.2" fill="#44AA99"/>
<rect x="1135.89" y="110.89" width="58.82" height="23.23" fill="#DDCC77"/>
<rect x="1135.89" y="98.16" width="58.82" height="13.03" fill="#CC6677"/>
<rect x="1135.89" y="80.25" width="58.82" height="18.21" fill="#882255"/>
<rect x="1135.89" y="70.53" width="58.82" height="10.02" fill="#AA4499"/>
<rect x="1135.89" y="66.78" width="58.82" height="4.05" fill="#666666"/>
</g>
<g clip-path="url(#clip-eu)" fill="none" stroke-linejoin="round" stroke-linecap="square">
<polyline points="778.67,391.71 793.25,397.52 807.83,390.79 822.41,394.75 836.99,386.43 851.57,365.45 866.15,384.98 880.73,362.16 895.31,340.91 909.89,350.94 924.47,355.43 939.05,347.64 953.63,363.74 968.21,347.91 982.79,323.5 997.38,319.01 1011.96,292.36 1026.54,244.86 1041.12,290.64 1055.7,251.33 1070.28,231.14 1084.86,237.08 1099.44,215.97 1114.02,215.97 1128.6,220.32 1143.18,178.89 1157.76,188.65 1172.34,187.6 1186.92,174.14 1201.5,152.5 1216.08,45.1" stroke="#fff" stroke-width="6.4"/>
<polyline points="778.67,391.71 793.25,397.52 807.83,390.79 822.41,394.75 836.99,386.43 851.57,365.45 866.15,384.98 880.73,362.16 895.31,340.91 909.89,350.94 924.47,355.43 939.05,347.64 953.63,363.74 968.21,347.91 982.79,323.5 997.38,319.01 1011.96,292.36 1026.54,244.86 1041.12,290.64 1055.7,251.33 1070.28,231.14 1084.86,237.08 1099.44,215.97 1114.02,215.97 1128.6,220.32 1143.18,178.89 1157.76,188.65 1172.34,187.6 1186.92,174.14 1201.5,152.5 1216.08,45.1" stroke="#03045e" stroke-width="4.3"/>
</g>
<rect x="756.8" y="49.72" width="481.15" height="358.22" fill="none" stroke="#000" stroke-width="1.5"/>
<path d="M764.09 407.94v4.1M836.99 407.94v4.1M909.89 407.94v4.1M982.79 407.94v4.1M1055.7 407.94v4.1M1128.6 407.94v4.1M1201.5 407.94v4.1M756.8 407.94h-4.1M756.8 339.71h-4.1M756.8 271.48h-4.1M756.8 203.24h-4.1M756.8 135.01h-4.1M756.8 66.78h-4.1M1237.95 407.94h4.1M1237.95 341.97h4.1M1237.95 276h4.1M1237.95 210.03h4.1M1237.95 144.06h4.1M1237.95 78.09h4.1" stroke="#000" stroke-width="1.2" fill="none"/>
<g font-size="19.5" stroke-width="0.15">
<text x="764.09" y="431.14" text-anchor="middle">1990</text>
<text x="836.99" y="431.14" text-anchor="middle">1995</text>
<text x="909.89" y="431.14" text-anchor="middle">2000</text>
<text x="982.79" y="431.14" text-anchor="middle">2005</text>
<text x="1055.7" y="431.14" text-anchor="middle">2010</text>
<text x="1128.6" y="431.14" text-anchor="middle">2015</text>
<text x="1201.5" y="431.14" text-anchor="middle">2020</text>
<text x="749.6" y="415.14" text-anchor="end">0.0</text>
<text x="749.6" y="346.91" text-anchor="end">0.2</text>
<text x="749.6" y="278.68" text-anchor="end">0.4</text>
<text x="749.6" y="210.44" text-anchor="end">0.6</text>
<text x="749.6" y="142.21" text-anchor="end">0.8</text>
<text x="749.6" y="73.98" text-anchor="end">1.0</text>
<text x="1245.35" y="415.14">0</text>
<text x="1245.35" y="349.17">50</text>
<text x="1245.35" y="283.2">100</text>
<text x="1245.35" y="217.23">150</text>
<text x="1245.35" y="151.26">200</text>
<text x="1245.35" y="85.29">250</text>
</g>
<g font-size="18.4" stroke-width="0.15">
<text x="817.9" y="43.8" text-anchor="middle">1990-1997</text>
<text x="934.4" y="43.8" text-anchor="middle">1998-2005</text>
<text x="1051" y="43.8" text-anchor="middle">2006-2013</text>
<text x="1163" y="43.8" text-anchor="middle">2014-2021</text>
</g>
<g font-size="19.4" text-anchor="middle" stroke-width="0.15">
<text x="997.38" y="16.12">Europe</text>
<text x="997.38" y="453.54">Publication year</text>
<text transform="translate(710 228.83) rotate(-90)">Percentage of pollutants</text>
<text transform="translate(1301.95 228.83) rotate(-90)">Number of papers peer year</text>
</g>
</g>
<g id="chart-as" font-family="'DejaVu Sans','Liberation Sans',sans-serif" fill="#000" stroke="#000" stroke-width="0" >
<clipPath id="clip-as"><rect x="1438.94" y="48.75" width="481.15" height="358.22"/></clipPath>
<g clip-path="url(#clip-as)" shape-rendering="crispEdges">
<rect x="1468.1" y="364.87" width="58.82" height="42.4" fill="#117733"/>
<rect x="1468.1" y="285.28" width="58.82" height="79.89" fill="#EE7733"/>
<rect x="1468.1" y="255.15" width="58.82" height="30.42" fill="#004488"/>
<rect x="1468.1" y="175.66" width="58.82" height="79.79" fill="#88CCEE"/>
<rect x="1468.1" y="151.44" width="58.82" height="24.52" fill="#44AA99"/>
<rect x="1468.1" y="114.94" width="58.82" height="36.8" fill="#DDCC77"/>
<rect x="1468.1" y="91.05" width="58.82" height="24.18" fill="#CC6677"/>
<rect x="1468.1" y="84.71" width="58.82" height="6.65" fill="#AA4499"/>
<rect x="1468.1" y="65.81" width="58.82" height="19.2" fill="#666666"/>
<rect x="1584.74" y="357.91" width="58.82" height="49.36" fill="#117733"/>
<rect x="1584.74" y="273.37" width="58.82" height="84.84" fill="#EE7733"/>
<rect x="1584.74" y="253.11" width="58.82" height="20.57" fill="#004488"/>
<rect x="1584.74" y="203.4" width="58.82" height="50.01" fill="#88CCEE"/>
<rect x="1584.74" y="166.93" width="58.82" height="36.77" fill="#44AA99"/>
<rect x="1584.74" y="126.88" width="58.82" height="40.35" fill="#DDCC77"/>
<rect x="1584.74" y="94.33" width="58.82" height="32.85" fill="#CC6677"/>
<rect x="1584.74" y="85.36" width="58.82" height="9.27" fill="#882255"/>
<rect x="1584.74" y="71.44" width="58.82" height="14.22" fill="#AA4499"/>
<rect x="1584.74" y="65.81" width="58.82" height="5.93" fill="#666666"/>
<rect x="1701.39" y="330.04" width="58.82" height="77.23" fill="#117733"/>
<rect x="1701.39" y="265.39" width="58.82" height="64.95" fill="#EE7733"/>
<rect x="1701.39" y="239.22" width="58.82" height="26.47" fill="#004488"/>
<rect x="1701.39" y="203.4" width="58.82" height="36.12" fill="#88CCEE"/>
<rect x="1701.39" y="170.2" width="58.82" height="33.5" fill="#44AA99"/>
<rect x="1701.39" y="132.13" width="58.82" height="38.37" fill="#DDCC77"/>
<rect x="1701.39" y="107.91" width="58.82" height="24.52" fill="#CC6677"/>
<rect x="1701.39" y="82.39" width="58.82" height="25.82" fill="#882255"/>
<rect x="1701.39" y="71.44" width="58.82" height="11.25" fill="#AA4499"/>
<rect x="1701.39" y="65.81" width="58.82" height="5.93" fill="#666666"/>
<rect x="1818.03" y="286.95" width="58.82" height="120.32" fill="#117733"/>
<rect x="1818.03" y="234.89" width="58.82" height="52.36" fill="#EE7733"/>
<rect x="1818.03" y="201.08" width="58.82" height="34.11" fill="#004488"/>
<rect x="1818.03" y="170.2" width="58.82" height="31.18" fill="#88CCEE"/>
<rect x="1818.03" y="143.39" width="58.82" height="27.12" fill="#44AA99"/>
<rect x="1818.03" y="115.28" width="58.82" height="28.41" fill="#DDCC77"/>
<rect x="1818.03" y="100.27" width="58.82" height="15.31" fill="#CC6677"/>
<rect x="1818.03" y="81.06" width="58.82" height="19.51" fill="#882255"/>
<rect x="1818.03" y="67.86" width="58.82" height="13.5" fill="#AA4499"/>
<rect x="1818.03" y="65.81" width="58.82" height="2.35" fill="#666666"/>
</g>
<g clip-path="url(#clip-as)" fill="none" stroke-linejoin="round" stroke-linecap="square">
<polyline points="1460.81,404.64 1475.39,403.44 1489.97,405.21 1504.55,403.66 1519.13,405.21 1533.71,402.74 1548.29,403.09 1562.87,401.68 1577.45,394.63 1592.03,395.69 1606.61,392.69 1621.19,391.81 1635.77,386.7 1650.35,385.82 1664.93,376.05 1679.51,366.07 1694.1,370.41 1708.68,363.11 1723.26,358.14 1737.84,355.14 1752.42,353.13 1767,360.08 1781.58,336.17 1796.16,322.56 1810.74,295.31 1825.32,276.37 1839.9,260.44 1854.48,212.24 1869.06,164.75 1883.64,129.84 1898.22,45.58" stroke="#fff" stroke-width="6.4"/>
<polyline points="1460.81,404.64 1475.39,403.44 1489.97,405.21 1504.55,403.66 1519.13,405.21 1533.71,402.74 1548.29,403.09 1562.87,401.68 1577.45,394.63 1592.03,395.69 1606.61,392.69 1621.19,391.81 1635.77,386.7 1650.35,385.82 1664.93,376.05 1679.51,366.07 1694.1,370.41 1708.68,363.11 1723.26,358.14 1737.84,355.14 1752.42,353.13 1767,360.08 1781.58,336.17 1796.16,322.56 1810.74,295.31 1825.32,276.37 1839.9,260.44 1854.48,212.24 1869.06,164.75 1883.64,129.84 1898.22,45.58" stroke="#03045e" stroke-width="4.3"/>
</g>
<rect x="1438.94" y="48.75" width="481.15" height="358.22" fill="none" stroke="#000" stroke-width="1.5"/>
<path d="M1446.23 406.97v4.1M1519.13 406.97v4.1M1592.03 406.97v4.1M1664.93 406.97v4.1M1737.84 406.97v4.1M1810.74 406.97v4.1M1883.64 406.97v4.1M1438.94 406.97h-4.1M1438.94 338.74h-4.1M1438.94 270.51h-4.1M1438.94 202.27h-4.1M1438.94 134.04h-4.1M1438.94 65.81h-4.1M1920.09 406.97h4.1M1920.09 336.45h4.1M1920.09 265.94h4.1M1920.09 195.42h4.1M1920.09 124.91h4.1M1920.09 54.39h4.1" stroke="#000" stroke-width="1.2" fill="none"/>
<g font-size="19.5" stroke-width="0.15">
<text x="1446.23" y="430.17" text-anchor="middle">1990</text>
<text x="1519.13" y="430.17" text-anchor="middle">1995</text>
<text x="1592.03" y="430.17" text-anchor="middle">2000</text>
<text x="1664.93" y="430.17" text-anchor="middle">2005</text>
<text x="1737.84" y="430.17" text-anchor="middle">2010</text>
<text x="1810.74" y="430.17" text-anchor="middle">2015</text>
<text x="1883.64" y="430.17" text-anchor="middle">2020</text>
<text x="1431.74" y="414.17" text-anchor="end">0.0</text>
<text x="1431.74" y="345.94" text-anchor="end">0.2</text>
<text x="1431.74" y="277.71" text-anchor="end">0.4</text>
<text x="1431.74" y="209.47" text-anchor="end">0.6</text>
<text x="1431.74" y="141.24" text-anchor="end">0.8</text>
<text x="1431.74" y="73.01" text-anchor="end">1.0</text>
<text x="1927.49" y="414.17">0</text>
<text x="1927.49" y="343.65">200</text>
<text x="1927.49" y="273.14">400</text>
<text x="1927.49" y="202.62">600</text>
<text x="1927.49" y="132.11">800</text>
<text x="1927.49" y="61.59">1000</text>
</g>
<g font-size="18.4" stroke-width="0.15">
<text x="1500.5" y="44.78" text-anchor="middle">1990-1997</text>
<text x="1612.7" y="44.78" text-anchor="middle">1998-2005</text>
<text x="1733.3" y="44.78" text-anchor="middle">2006-2013</text>
<text x="1849.3" y="44.78" text-anchor="middle">2014-2021</text>
</g>
<g font-size="19.4" text-anchor="middle" stroke-width="0.15">
<text x="1679.51" y="15.15">Asia</text>
<text x="1679.51" y="452.57">Publication year</text>
<text transform="translate(1392.14 227.86) rotate(-90)">Percentage of pollutants</text>
<text transform="translate(1996.69 227.86) rotate(-90)">Number of papers peer year</text>
</g>
</g>
<g id="chart-sa" font-family="'DejaVu Sans','Liberation Sans',sans-serif" fill="#000" stroke="#000" stroke-width="0" >
<clipPath id="clip-sa"><rect x="69.04" y="1452.1" width="481.15" height="358.22"/></clipPath>
<g clip-path="url(#clip-sa)" shape-rendering="crispEdges">
<rect x="90.91" y="1750.96" width="59.81" height="59.66" fill="#117733"/>
<rect x="90.91" y="1661.41" width="59.81" height="89.86" fill="#EE7733"/>
<rect x="90.91" y="1631.57" width="59.81" height="30.14" fill="#004488"/>
<rect x="90.91" y="1571.85" width="59.81" height="60.02" fill="#44AA99"/>
<rect x="90.91" y="1482.3" width="59.81" height="89.86" fill="#DDCC77"/>
<rect x="90.91" y="1452.1" width="59.81" height="30.5" fill="#882255"/>
<rect x="209.53" y="1740.68" width="59.81" height="69.94" fill="#117733"/>
<rect x="209.53" y="1661.73" width="59.81" height="79.25" fill="#EE7733"/>
<rect x="209.53" y="1653.1" width="59.81" height="8.93" fill="#004488"/>
<rect x="209.53" y="1600.76" width="59.81" height="52.64" fill="#88CCEE"/>
<rect x="209.53" y="1548.28" width="59.81" height="52.78" fill="#44AA99"/>
<rect x="209.53" y="1513.46" width="59.81" height="35.12" fill="#DDCC77"/>
<rect x="209.53" y="1478.61" width="59.81" height="35.15" fill="#CC6677"/>
<rect x="209.53" y="1452.1" width="59.81" height="26.81" fill="#AA4499"/>
<rect x="328.15" y="1755.87" width="59.81" height="54.75" fill="#117733"/>
<rect x="328.15" y="1685.66" width="59.81" height="70.51" fill="#EE7733"/>
<rect x="328.15" y="1635.87" width="59.81" height="50.09" fill="#004488"/>
<rect x="328.15" y="1598.04" width="59.81" height="38.13" fill="#88CCEE"/>
<rect x="328.15" y="1531.37" width="59.81" height="66.96" fill="#44AA99"/>
<rect x="328.15" y="1510.49" width="59.81" height="21.18" fill="#DDCC77"/>
<rect x="328.15" y="1506.55" width="59.81" height="4.24" fill="#CC6677"/>
<rect x="328.15" y="1473.34" width="59.81" height="33.51" fill="#882255"/>
<rect x="328.15" y="1465" width="59.81" height="8.65" fill="#AA4499"/>
<rect x="328.15" y="1452.1" width="59.81" height="13.2" fill="#666666"/>
<rect x="446.77" y="1687.27" width="59.81" height="123.35" fill="#117733"/>
<rect x="446.77" y="1625.23" width="59.81" height="62.34" fill="#EE7733"/>
<rect x="446.77" y="1590.09" width="59.81" height="35.44" fill="#004488"/>
<rect x="446.77" y="1575.15" width="59.81" height="15.24" fill="#88CCEE"/>
<rect x="446.77" y="1531.37" width="59.81" height="44.07" fill="#44AA99"/>
<rect x="446.77" y="1503.18" width="59.81" height="28.49" fill="#DDCC77"/>
<rect x="446.77" y="1488.64" width="59.81" height="14.84" fill="#CC6677"/>
<rect x="446.77" y="1463.71" width="59.81" height="25.23" fill="#882255"/>
<rect x="446.77" y="1458.08" width="59.81" height="5.92" fill="#AA4499"/>
<rect x="446.77" y="1452.1" width="59.81" height="6.28" fill="#666666"/>
</g>
<g clip-path="url(#clip-sa)" fill="none" stroke-linejoin="round" stroke-linecap="square">
<polyline points="98.32,1785.09 113.15,1795.18 127.98,1805.27 142.81,1795.18 157.63,1785.09 172.46,1805.27 187.29,1790.14 202.12,1769.96 216.94,1775 231.77,1780.05 246.6,1759.87 261.43,1805.27 276.25,1775 291.08,1785.09 305.91,1734.64 320.74,1749.78 335.56,1739.69 350.39,1764.91 365.22,1739.69 380.05,1764.91 394.87,1785.09 409.7,1769.96 424.53,1669.05 439.35,1734.64 454.18,1744.73 469.01,1709.41 483.84,1669.05 498.66,1669.05 513.49,1558.05 528.32,1447.05" stroke="#fff" stroke-width="6.4"/>
<polyline points="98.32,1785.09 113.15,1795.18 127.98,1805.27 142.81,1795.18 157.63,1785.09 172.46,1805.27 187.29,1790.14 202.12,1769.96 216.94,1775 231.77,1780.05 246.6,1759.87 261.43,1805.27 276.25,1775 291.08,1785.09 305.91,1734.64 320.74,1749.78 335.56,1739.69 350.39,1764.91 365.22,1739.69 380.05,1764.91 394.87,1785.09 409.7,1769.96 424.53,1669.05 439.35,1734.64 454.18,1744.73 469.01,1709.41 483.84,1669.05 498.66,1669.05 513.49,1558.05 528.32,1447.05" stroke="#03045e" stroke-width="4.3"/>
</g>
<rect x="69.04" y="1452.1" width="481.15" height="358.22" fill="none" stroke="#000" stroke-width="1.5"/>
<path d="M142.81 1810.32v4.1M216.94 1810.32v4.1M291.08 1810.32v4.1M365.22 1810.32v4.1M439.35 1810.32v4.1M513.49 1810.32v4.1M69.04 1810.32h-4.1M69.04 1738.68h-4.1M69.04 1667.03h-4.1M69.04 1595.39h-4.1M69.04 1523.74h-4.1M69.04 1452.1h-4.1M550.19 1810.32h4.1M550.19 1759.87h4.1M550.19 1709.41h4.1M550.19 1658.96h4.1M550.19 1608.51h4.1M550.19 1558.05h4.1M550.19 1507.6h4.1M550.19 1457.15h4.1" stroke="#000" stroke-width="1.2" fill="none"/>
<g font-size="19.5" stroke-width="0.15">
<text x="142.81" y="1833.52" text-anchor="middle">1995</text>
<text x="216.94" y="1833.52" text-anchor="middle">2000</text>
<text x="291.08" y="1833.52" text-anchor="middle">2005</text>
<text x="365.22" y="1833.52" text-anchor="middle">2010</text>
<text x="439.35" y="1833.52" text-anchor="middle">2015</text>
<text x="513.49" y="1833.52" text-anchor="middle">2020</text>
<text x="61.84" y="1817.52" text-anchor="end">0.0</text>
<text x="61.84" y="1745.88" text-anchor="end">0.2</text>
<text x="61.84" y="1674.23" text-anchor="end">0.4</text>
<text x="61.84" y="1602.59" text-anchor="end">0.6</text>
<text x="61.84" y="1530.94" text-anchor="end">0.8</text>
<text x="61.84" y="1459.3" text-anchor="end">1.0</text>
<text x="557.59" y="1817.52">0</text>
<text x="557.59" y="1767.07">10</text>
<text x="557.59" y="1716.61">20</text>
<text x="557.59" y="1666.16">30</text>
<text x="557.59" y="1615.71">40</text>
<text x="557.59" y="1565.25">50</text>
<text x="557.59" y="1514.8">60</text>
<text x="557.59" y="1464.35">70</text>
</g>
<g font-size="18.4" stroke-width="0.15">
<text x="127.2" y="1444.35" text-anchor="middle">1990-1997</text>
<text x="239.5" y="1444.35" text-anchor="middle">1998-2005</text>
<text x="360" y="1444.35" text-anchor="middle">2006-2013</text>
<text x="475.9" y="1444.35" text-anchor="middle">2014-2021</text>
</g>
<g font-size="19.4" text-anchor="middle" stroke-width="0.15">
<text x="309.62" y="1418.5">South America</text>
<text x="309.62" y="1855.92">Publication year</text>
<text transform="translate(22.24 1631.21) rotate(-90)">Percentage of pollutants</text>
<text transform="translate(601.99 1631.21) rotate(-90)">Number of papers peer year</text>
</g>
</g>
<g id="chart-af" font-family="'DejaVu Sans','Liberation Sans',sans-serif" fill="#000" stroke="#000" stroke-width="0" >
<clipPath id="clip-af"><rect x="764.6" y="1450.45" width="481.15" height="358.22"/></clipPath>
<g clip-path="url(#clip-af)" shape-rendering="crispEdges">
<rect x="793.76" y="1786.15" width="58.82" height="22.82" fill="#117733"/>
<rect x="793.76" y="1718.09" width="58.82" height="68.36" fill="#EE7733"/>
<rect x="793.76" y="1672.27" width="58.82" height="46.12" fill="#88CCEE"/>
<rect x="793.76" y="1626.83" width="58.82" height="45.74" fill="#44AA99"/>
<rect x="793.76" y="1535.54" width="58.82" height="91.59" fill="#DDCC77"/>
<rect x="793.76" y="1512.64" width="58.82" height="23.19" fill="#CC6677"/>
<rect x="793.76" y="1490.02" width="58.82" height="22.92" fill="#882255"/>
<rect x="793.76" y="1467.51" width="58.82" height="22.82" fill="#666666"/>
<rect x="910.4" y="1767.94" width="58.82" height="41.03" fill="#117733"/>
<rect x="910.4" y="1676.3" width="58.82" height="91.94" fill="#EE7733"/>
<rect x="910.4" y="1656.1" width="58.82" height="20.5" fill="#004488"/>
<rect x="910.4" y="1630.17" width="58.82" height="26.23" fill="#88CCEE"/>
<rect x="910.4" y="1584.7" width="58.82" height="45.78" fill="#44AA99"/>
<rect x="910.4" y="1513.33" width="58.82" height="71.67" fill="#DDCC77"/>
<rect x="910.4" y="1498.21" width="58.82" height="15.41" fill="#CC6677"/>
<rect x="910.4" y="1493.1" width="58.82" height="5.42" fill="#882255"/>
<rect x="910.4" y="1472.97" width="58.82" height="20.43" fill="#AA4499"/>
<rect x="910.4" y="1467.51" width="58.82" height="5.76" fill="#666666"/>
<rect x="1027.05" y="1755.79" width="58.82" height="53.18" fill="#117733"/>
<rect x="1027.05" y="1695.85" width="58.82" height="60.24" fill="#EE7733"/>
<rect x="1027.05" y="1679.71" width="58.82" height="16.44" fill="#004488"/>
<rect x="1027.05" y="1651.05" width="58.82" height="28.96" fill="#88CCEE"/>
<rect x="1027.05" y="1599.88" width="58.82" height="51.47" fill="#44AA99"/>
<rect x="1027.05" y="1540.24" width="58.82" height="59.94" fill="#DDCC77"/>
<rect x="1027.05" y="1512.3" width="58.82" height="28.24" fill="#CC6677"/>
<rect x="1027.05" y="1487.36" width="58.82" height="25.24" fill="#882255"/>
<rect x="1027.05" y="1475.93" width="58.82" height="11.73" fill="#AA4499"/>
<rect x="1027.05" y="1467.51" width="58.82" height="8.73" fill="#666666"/>
<rect x="1143.69" y="1717.07" width="58.82" height="91.9" fill="#117733"/>
<rect x="1143.69" y="1671.25" width="58.82" height="46.12" fill="#EE7733"/>
<rect x="1143.69" y="1647.03" width="58.82" height="24.52" fill="#004488"/>
<rect x="1143.69" y="1623.08" width="58.82" height="24.25" fill="#88CCEE"/>
<rect x="1143.69" y="1592.13" width="58.82" height="31.24" fill="#44AA99"/>
<rect x="1143.69" y="1512.3" width="58.82" height="80.13" fill="#DDCC77"/>
<rect x="1143.69" y="1499.58" width="58.82" height="13.03" fill="#CC6677"/>
<rect x="1143.69" y="1478.29" width="58.82" height="21.59" fill="#882255"/>
<rect x="1143.69" y="1471.94" width="58.82" height="6.65" fill="#AA4499"/>
<rect x="1143.69" y="1467.51" width="58.82" height="4.74" fill="#666666"/>
</g>
<g clip-path="url(#clip-af)" fill="none" stroke-linejoin="round" stroke-linecap="square">
<polyline points="786.47,1800.32 801.05,1800.32 815.63,1804.49 830.21,1791.97 844.79,1779.44 859.37,1766.92 873.95,1785.71 888.53,1804.49 903.11,1771.09 917.69,1775.27 932.27,1766.92 946.85,1775.27 961.43,1783.62 976.01,1779.44 990.59,1733.52 1005.17,1712.64 1019.76,1708.47 1034.34,1687.59 1048.92,1641.67 1063.5,1624.97 1078.08,1741.87 1092.66,1779.44 1107.24,1712.64 1121.82,1695.94 1136.4,1620.79 1150.98,1670.89 1165.56,1629.14 1180.14,1591.57 1194.72,1579.04 1209.3,1470.49 1223.88,1445.44" stroke="#fff" stroke-width="6.4"/>
<polyline points="786.47,1800.32 801.05,1800.32 815.63,1804.49 830.21,1791.97 844.79,1779.44 859.37,1766.92 873.95,1785.71 888.53,1804.49 903.11,1771.09 917.69,1775.27 932.27,1766.92 946.85,1775.27 961.43,1783.62 976.01,1779.44 990.59,1733.52 1005.17,1712.64 1019.76,1708.47 1034.34,1687.59 1048.92,1641.67 1063.5,1624.97 1078.08,1741.87 1092.66,1779.44 1107.24,1712.64 1121.82,1695.94 1136.4,1620.79 1150.98,1670.89 1165.56,1629.14 1180.14,1591.57 1194.72,1579.04 1209.3,1470.49 1223.88,1445.44" stroke="#03045e" stroke-width="4.3"/>
</g>
<rect x="764.6" y="1450.45" width="481.15" height="358.22" fill="none" stroke="#000" stroke-width="1.5"/>
<path d="M771.89 1808.67v4.1M844.79 1808.67v4.1M917.69 1808.67v4.1M990.59 1808.67v4.1M1063.5 1808.67v4.1M1136.4 1808.67v4.1M1209.3 1808.67v4.1M764.6 1808.67h-4.1M764.6 1740.44h-4.1M764.6 1672.21h-4.1M764.6 1603.97h-4.1M764.6 1535.74h-4.1M764.6 1467.51h-4.1M1245.75 1808.67h4.1M1245.75 1766.92h4.1M1245.75 1725.17h4.1M1245.75 1683.42h4.1M1245.75 1641.67h4.1M1245.75 1599.92h4.1M1245.75 1558.17h4.1M1245.75 1516.42h4.1M1245.75 1474.67h4.1" stroke="#000" stroke-width="1.2" fill="none"/>
<g font-size="19.5" stroke-width="0.15">
<text x="771.89" y="1831.87" text-anchor="middle">1990</text>
<text x="844.79" y="1831.87" text-anchor="middle">1995</text>
<text x="917.69" y="1831.87" text-anchor="middle">2000</text>
<text x="990.59" y="1831.87" text-anchor="middle">2005</text>
<text x="1063.5" y="1831.87" text-anchor="middle">2010</text>
<text x="1136.4" y="1831.87" text-anchor="middle">2015</text>
<text x="1209.3" y="1831.87" text-anchor="middle">2020</text>
<text x="757.4" y="1815.87" text-anchor="end">0.0</text>
<text x="757.4" y="1747.64" text-anchor="end">0.2</text>
<text x="757.4" y="1679.41" text-anchor="end">0.4</text>
<text x="757.4" y="1611.17" text-anchor="end">0.6</text>
<text x="757.4" y="1542.94" text-anchor="end">0.8</text>
<text x="757.4" y="1474.71" text-anchor="end">1.0</text>
<text x="1253.15" y="1815.87">0</text>
<text x="1253.15" y="1774.12">10</text>
<text x="1253.15" y="1732.37">20</text>
<text x="1253.15" y="1690.62">30</text>
<text x="1253.15" y="1648.87">40</text>
<text x="1253.15" y="1607.12">50</text>
<text x="1253.15" y="1565.37">60</text>
<text x="1253.15" y="1523.62">70</text>
<text x="1253.15" y="1481.87">80</text>
</g>
<g font-size="18.4" stroke-width="0.15">
<text x="823.5" y="1445.27" text-anchor="middle">1990-1997</text>
<text x="939.9" y="1445.27" text-anchor="middle">1998-2005</text>
<text x="1056.4" y="1445.27" text-anchor="middle">2006-2013</text>
<text x="1172.8" y="1445.27" text-anchor="middle">2014-2021</text>
</g>
<g font-size="19.4" text-anchor="middle" stroke-width="0.15">
<text x="1005.17" y="1416.85">Africa</text>
<text x="1005.17" y="1854.27">Publication year</text>
<text transform="translate(717.8 1629.56) rotate(-90)">Percentage of pollutants</text>
<text transform="translate(1297.55 1629.56) rotate(-90)">Number of papers peer year</text>
</g>
</g>
<g id="chart-oc" font-family="'DejaVu Sans','Liberation Sans',sans-serif" fill="#000" stroke="#000" stroke-width="0" >
<clipPath id="clip-oc"><rect x="1441.75" y="1455.13" width="481.15" height="358.22"/></clipPath>
<g clip-path="url(#clip-oc)" shape-rendering="crispEdges">
<rect x="1463.62" y="1679.09" width="59.81" height="134.56" fill="#EE7733"/>
<rect x="1463.62" y="1634.6" width="59.81" height="44.79" fill="#004488"/>
<rect x="1463.62" y="1589.46" width="59.81" height="45.44" fill="#88CCEE"/>
<rect x="1463.62" y="1499.66" width="59.81" height="90.11" fill="#DDCC77"/>
<rect x="1463.62" y="1455.13" width="59.81" height="44.83" fill="#CC6677"/>
<rect x="1582.24" y="1765.17" width="59.81" height="48.48" fill="#117733"/>
<rect x="1582.24" y="1638.9" width="59.81" height="126.57" fill="#EE7733"/>
<rect x="1582.24" y="1629.22" width="59.81" height="9.97" fill="#004488"/>
<rect x="1582.24" y="1619.62" width="59.81" height="9.9" fill="#88CCEE"/>
<rect x="1582.24" y="1551.85" width="59.81" height="68.08" fill="#44AA99"/>
<rect x="1582.24" y="1512.95" width="59.81" height="39.2" fill="#DDCC77"/>
<rect x="1582.24" y="1493.67" width="59.81" height="19.57" fill="#CC6677"/>
<rect x="1582.24" y="1474.47" width="59.81" height="19.5" fill="#882255"/>
<rect x="1582.24" y="1455.13" width="59.81" height="19.64" fill="#AA4499"/>
<rect x="1700.86" y="1728.63" width="59.81" height="85.02" fill="#117733"/>
<rect x="1700.86" y="1643.91" width="59.81" height="85.02" fill="#EE7733"/>
<rect x="1700.86" y="1621.7" width="59.81" height="22.51" fill="#004488"/>
<rect x="1700.86" y="1602.72" width="59.81" height="19.29" fill="#88CCEE"/>
<rect x="1700.86" y="1558.8" width="59.81" height="44.22" fill="#44AA99"/>
<rect x="1700.86" y="1517.6" width="59.81" height="41.5" fill="#DDCC77"/>
<rect x="1700.86" y="1495.68" width="59.81" height="22.22" fill="#CC6677"/>
<rect x="1700.86" y="1464.8" width="59.81" height="31.18" fill="#882255"/>
<rect x="1700.86" y="1457.14" width="59.81" height="7.97" fill="#AA4499"/>
<rect x="1700.86" y="1455.13" width="59.81" height="2.31" fill="#666666"/>
<rect x="1819.48" y="1707.68" width="59.81" height="105.97" fill="#117733"/>
<rect x="1819.48" y="1617.3" width="59.81" height="90.68" fill="#EE7733"/>
<rect x="1819.48" y="1589.71" width="59.81" height="27.88" fill="#004488"/>
<rect x="1819.48" y="1573.09" width="59.81" height="16.92" fill="#88CCEE"/>
<rect x="1819.48" y="1524.98" width="59.81" height="48.41" fill="#44AA99"/>
<rect x="1819.48" y="1491.02" width="59.81" height="34.26" fill="#DDCC77"/>
<rect x="1819.48" y="1481.07" width="59.81" height="10.26" fill="#CC6677"/>
<rect x="1819.48" y="1458.46" width="59.81" height="22.9" fill="#882255"/>
<rect x="1819.48" y="1455.13" width="59.81" height="3.63" fill="#AA4499"/>
</g>
<g clip-path="url(#clip-oc)" fill="none" stroke-linejoin="round" stroke-linecap="square">
<polyline points="1471.03,1788.36 1485.86,1805.02 1500.69,1805.02 1515.52,1796.69 1530.34,1788.36 1545.17,1792.52 1560,1796.69 1574.83,1780.03 1589.65,1780.03 1604.48,1755.04 1619.31,1738.37 1634.14,1796.69 1648.96,1755.04 1663.79,1796.69 1678.62,1663.4 1693.45,1705.05 1708.27,1713.38 1723.1,1696.72 1737.93,1746.7 1752.76,1580.09 1767.58,1771.7 1782.41,1680.06 1797.24,1613.41 1812.06,1738.37 1826.89,1705.05 1841.72,1663.4 1856.55,1638.41 1871.37,1563.43 1886.2,1638.41 1901.03,1446.8" stroke="#fff" stroke-width="6.4"/>
<polyline points="1471.03,1788.36 1485.86,1805.02 1500.69,1805.02 1515.52,1796.69 1530.34,1788.36 1545.17,1792.52 1560,1796.69 1574.83,1780.03 1589.65,1780.03 1604.48,1755.04 1619.31,1738.37 1634.14,1796.69 1648.96,1755.04 1663.79,1796.69 1678.62,1663.4 1693.45,1705.05 1708.27,1713.38 1723.1,1696.72 1737.93,1746.7 1752.76,1580.09 1767.58,1771.7 1782.41,1680.06 1797.24,1613.41 1812.06,1738.37 1826.89,1705.05 1841.72,1663.4 1856.55,1638.41 1871.37,1563.43 1886.2,1638.41 1901.03,1446.8" stroke="#03045e" stroke-width="4.3"/>
</g>
<rect x="1441.75" y="1455.13" width="481.15" height="358.22" fill="none" stroke="#000" stroke-width="1.5"/>
<path d="M1515.52 1813.35v4.1M1589.65 1813.35v4.1M1663.79 1813.35v4.1M1737.93 1813.35v4.1M1812.06 1813.35v4.1M1886.2 1813.35v4.1M1441.75 1813.35h-4.1M1441.75 1741.71h-4.1M1441.75 1670.06h-4.1M1441.75 1598.42h-4.1M1441.75 1526.77h-4.1M1441.75 1455.13h-4.1M1922.9 1813.35h4.1M1922.9 1771.7h4.1M1922.9 1730.04h4.1M1922.9 1688.39h4.1M1922.9 1646.74h4.1M1922.9 1605.08h4.1M1922.9 1563.43h4.1M1922.9 1521.78h4.1M1922.9 1480.12h4.1" stroke="#000" stroke-width="1.2" fill="none"/>
<g font-size="19.5" stroke-width="0.15">
<text x="1515.52" y="1836.55" text-anchor="middle">1995</text>
<text x="1589.65" y="1836.55" text-anchor="middle">2000</text>
<text x="1663.79" y="1836.55" text-anchor="middle">2005</text>
<text x="1737.93" y="1836.55" text-anchor="middle">2010</text>
<text x="1812.06" y="1836.55" text-anchor="middle">2015</text>
<text x="1886.2" y="1836.55" text-anchor="middle">2020</text>
<text x="1434.55" y="1820.55" text-anchor="end">0.0</text>
<text x="1434.55" y="1748.91" text-anchor="end">0.2</text>
<text x="1434.55" y="1677.26" text-anchor="end">0.4</text>
<text x="1434.55" y="1605.62" text-anchor="end">0.6</text>
<text x="1434.55" y="1533.97" text-anchor="end">0.8</text>
<text x="1434.55" y="1462.33" text-anchor="end">1.0</text>
<text x="1930.3" y="1820.55">0</text>
<text x="1930.3" y="1778.9">5</text>
<text x="1930.3" y="1737.24">10</text>
<text x="1930.3" y="1695.59">15</text>
<text x="1930.3" y="1653.94">20</text>
<text x="1930.3" y="1612.28">25</text>
<text x="1930.3" y="1570.63">30</text>
<text x="1930.3" y="1528.98">35</text>
<text x="1930.3" y="1487.32">40</text>
</g>
<g font-size="18.4" stroke-width="0.15">
<text x="1497.7" y="1446.2" text-anchor="middle">1990-1997</text>
<text x="1613.9" y="1446.2" text-anchor="middle">1998-2005</text>
<text x="1730.4" y="1446.2" text-anchor="middle">2006-2013</text>
<text x="1851" y="1446.2" text-anchor="middle">2014-2021</text>
</g>
<g font-size="19.4" text-anchor="middle" stroke-width="0.15">
<text x="1682.33" y="1421.53">Oceania</text>
<text x="1682.33" y="1858.95">Publication year</text>
<text transform="translate(1394.95 1634.24) rotate(-90)">Percentage of pollutants</text>
<text transform="translate(1974.7 1634.24) rotate(-90)">Number of papers peer year</text>
</g>
</g>
<g id="legend-pollutant">
<text x="9.6" y="494" font-family="'Liberation Sans','DejaVu Sans',sans-serif" font-weight="bold" font-size="33.5" textLength="146.8" lengthAdjust="spacingAndGlyphs">Pollutant</text>
<rect x="1.3" y="512.7" width="159.5" height="334.7" rx="5" ry="5" fill="#fff" fill-opacity="0.8" stroke="#ccc" stroke-opacity="0.9" stroke-width="2.8"/>
<rect x="10.35" y="521.75" width="45.2" height="16" fill="#117733" stroke="#000" stroke-width="2.7"/>
<text x="73.1" y="538" font-family="'DejaVu Sans','Liberation Sans',sans-serif" font-size="22.6">PM</text>
<rect x="10.35" y="554.75" width="45.2" height="16" fill="#EE7733" stroke="#000" stroke-width="2.7"/>
<text x="73.1" y="571" font-family="'DejaVu Sans','Liberation Sans',sans-serif" font-size="22.6">O3</text>
<rect x="10.35" y="587.75" width="45.2" height="16" fill="#004488" stroke="#000" stroke-width="2.7"/>
<text x="73.1" y="604" font-family="'DejaVu Sans','Liberation Sans',sans-serif" font-size="22.6">NO2</text>
<rect x="10.35" y="620.75" width="45.2" height="16" fill="#88CCEE" stroke="#000" stroke-width="2.7"/>
<text x="73.1" y="637" font-family="'DejaVu Sans','Liberation Sans',sans-serif" font-size="22.6">SO2</text>
<rect x="10.35" y="653.75" width="45.2" height="16" fill="#44AA99" stroke="#000" stroke-width="2.7"/>
<text x="73.1" y="670" font-family="'DejaVu Sans','Liberation Sans',sans-serif" font-size="22.6">CO</text>
<rect x="10.35" y="686.75" width="45.2" height="16" fill="#DDCC77" stroke="#000" stroke-width="2.7"/>
<text x="73.1" y="703" font-family="'DejaVu Sans','Liberation Sans',sans-serif" font-size="22.6">Dust</text>
<rect x="10.35" y="719.75" width="45.2" height="16" fill="#CC6677" stroke="#000" stroke-width="2.7"/>
<text x="73.1" y="736" font-family="'DejaVu Sans','Liberation Sans',sans-serif" font-size="22.6">Sulfate</text>
<rect x="10.35" y="752.75" width="45.2" height="16" fill="#882255" stroke="#000" stroke-width="2.7"/>
<text x="73.1" y="769" font-family="'DejaVu Sans','Liberation Sans',sans-serif" font-size="22.6">BC</text>
<rect x="10.35" y="785.75" width="45.2" height="16" fill="#AA4499" stroke="#000" stroke-width="2.7"/>
<text x="73.1" y="802" font-family="'DejaVu Sans','Liberation Sans',sans-serif" font-size="22.6">Nitrate</text>
<rect x="10.35" y="818.75" width="45.2" height="16" fill="#666666" stroke="#000" stroke-width="2.7"/>
<text x="73.1" y="835" font-family="'DejaVu Sans','Liberation Sans',sans-serif" font-size="22.6">Pb</text>
</g>
<g id="legend-papers">
<text x="147.6" y="1010.2" font-family="'Liberation Sans','DejaVu Sans',sans-serif" font-weight="bold" font-size="34.5" textLength="294.2" lengthAdjust="spacingAndGlyphs">Number of Papers</text>
<rect x="146.8" y="1028.2" width="282.2" height="284.8" rx="5" ry="5" fill="#fff" fill-opacity="0.8" stroke="#ccc" stroke-opacity="0.9" stroke-width="2.9"/>
<circle cx="190" cy="1056.3" r="24.45" fill="#752f70" stroke="#fff" stroke-width="3.3" stroke-opacity="0.84" fill-opacity="0.84"/>
<text x="246.6" y="1065.4" font-family="'DejaVu Sans','Liberation Sans',sans-serif" font-size="31.2">2001-3500</text>
<circle cx="190" cy="1102.2" r="20.95" fill="#8f3972" stroke="#fff" stroke-width="3.3" stroke-opacity="0.84" fill-opacity="0.84"/>
<text x="246.6" y="1111.3" font-family="'DejaVu Sans','Liberation Sans',sans-serif" font-size="31.2">1001-2000</text>
<circle cx="190" cy="1148.1" r="18.95" fill="#b53e70" stroke="#fff" stroke-width="3.3" stroke-opacity="0.84" fill-opacity="0.84"/>
<text x="246.6" y="1157.2" font-family="'DejaVu Sans','Liberation Sans',sans-serif" font-size="31.2">401-1000</text>
<circle cx="190" cy="1194" r="15.45" fill="#d54f68" stroke="#fff" stroke-width="3.3" stroke-opacity="0.84" fill-opacity="0.84"/>
<text x="246.6" y="1203.1" font-family="'DejaVu Sans','Liberation Sans',sans-serif" font-size="31.2">151-400</text>
<circle cx="190" cy="1239.9" r="12.65" fill="#e46b5f" stroke="#fff" stroke-width="3.3" stroke-opacity="0.84" fill-opacity="0.84"/>
<text x="246.6" y="1249" font-family="'DejaVu Sans','Liberation Sans',sans-serif" font-size="31.2">51-150</text>
<circle cx="190" cy="1285.8" r="7.15" fill="#ea8f70" stroke="#fff" stroke-width="3.3" stroke-opacity="0.84" fill-opacity="0.84"/>
<text x="246.6" y="1294.9" font-family="'DejaVu Sans','Liberation Sans',sans-serif" font-size="31.2">1-50</text>
</g>
</svg>
</body></html>
